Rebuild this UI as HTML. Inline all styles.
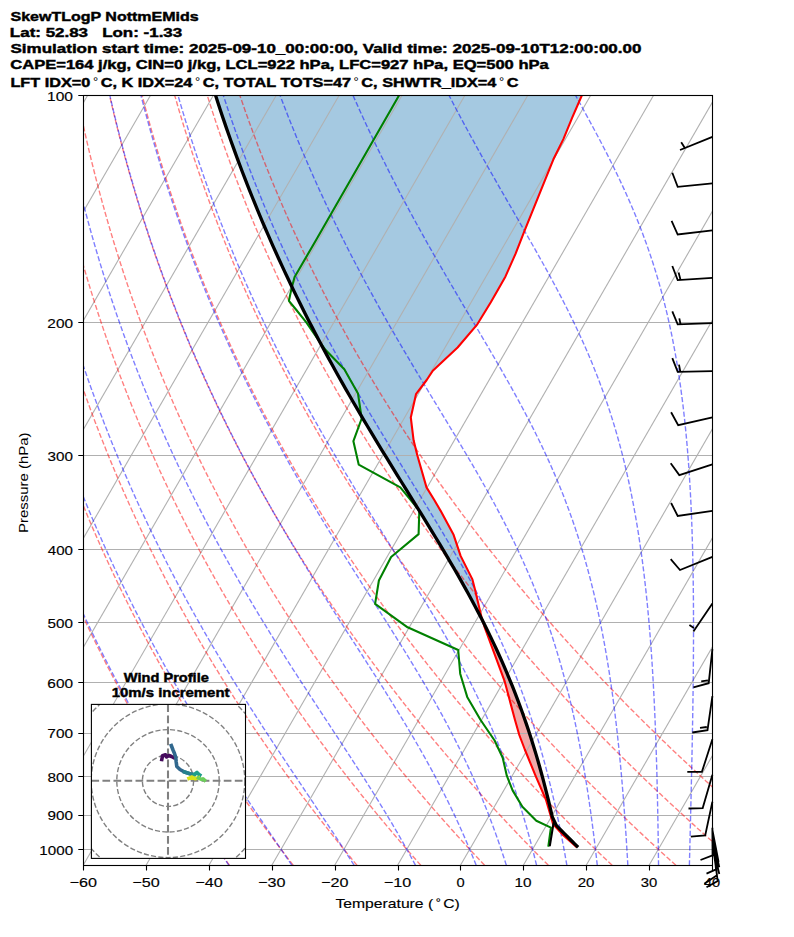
<!DOCTYPE html>
<html><head><meta charset="utf-8">
<style>
html,body{margin:0;padding:0;background:#fff;}
body{width:794px;height:937px;overflow:hidden;position:relative;font-family:"Liberation Sans",sans-serif;}
svg{position:absolute;left:0;top:0;}
text{font-family:"Liberation Sans",sans-serif;fill:#000;}
.g{stroke:#b0b0b0;stroke-width:1.1;fill:none;}
.da{stroke:rgba(255,0,0,0.5);stroke-width:1.39;fill:none;stroke-dasharray:5.14 2.22;}
.ma{stroke:rgba(0,0,255,0.5);stroke-width:1.39;fill:none;stroke-dasharray:5.14 2.22;}
.tl{stroke:#ff0000;stroke-width:2.08;fill:none;stroke-linejoin:round;stroke-linecap:square;}
.dl{stroke:#008000;stroke-width:2.08;fill:none;stroke-linejoin:round;stroke-linecap:round;}
.pl{stroke:#000;stroke-width:3.3;fill:none;stroke-linejoin:round;stroke-linecap:square;}
.ml{stroke:#000;stroke-width:2.08;fill:none;stroke-linecap:round;}
</style></head><body>
<svg width="794" height="937" viewBox="0 0 794 937">
<defs><clipPath id="ax"><rect x="83.5" y="95.5" width="629" height="770"/></clipPath></defs>
<g clip-path="url(#ax)">
<path d="M583.33,92.00 L582.75,93.33 L582.17,94.65 L581.59,95.98 L581.02,97.30 L580.45,98.63 L579.87,99.95 L579.30,101.28 L578.73,102.61 L578.15,103.93 L577.58,105.26 L577.01,106.58 L576.43,107.91 L575.86,109.23 L575.29,110.56 L574.71,111.88 L574.14,113.21 L573.57,114.54 L572.99,115.86 L572.42,117.19 L571.87,118.51 L571.32,119.84 L570.78,121.16 L570.23,122.49 L569.69,123.82 L569.14,125.14 L568.59,126.47 L568.05,127.79 L567.50,129.12 L566.96,130.44 L566.41,131.77 L565.87,133.10 L565.32,134.42 L564.78,135.75 L564.23,137.07 L563.69,138.40 L563.09,139.72 L562.43,141.05 L561.78,142.38 L561.12,143.70 L560.47,145.03 L559.81,146.35 L559.15,147.68 L558.50,149.00 L557.84,150.33 L557.18,151.65 L556.53,152.98 L555.87,154.31 L555.22,155.63 L554.56,156.96 L553.90,158.28 L553.28,159.61 L552.74,160.93 L552.20,162.26 L551.67,163.59 L551.13,164.91 L550.60,166.24 L550.06,167.56 L549.53,168.89 L548.99,170.21 L548.46,171.54 L547.92,172.87 L547.39,174.19 L546.85,175.52 L546.31,176.84 L545.78,178.17 L545.24,179.49 L544.71,180.82 L544.17,182.15 L543.64,183.47 L543.10,184.80 L542.57,186.12 L542.03,187.45 L541.50,188.77 L540.96,190.10 L540.42,191.42 L539.89,192.75 L539.35,194.08 L538.82,195.40 L538.28,196.73 L537.75,198.05 L537.21,199.38 L536.68,200.70 L536.14,202.03 L535.61,203.36 L535.07,204.68 L534.54,206.01 L534.00,207.33 L533.46,208.66 L532.93,209.98 L532.39,211.31 L531.86,212.64 L531.32,213.96 L530.79,215.29 L530.25,216.61 L529.72,217.94 L529.18,219.26 L528.65,220.59 L528.11,221.92 L527.57,223.24 L527.04,224.57 L526.50,225.89 L525.97,227.22 L525.43,228.54 L524.90,229.87 L524.36,231.19 L523.85,232.52 L523.33,233.85 L522.81,235.17 L522.30,236.50 L521.78,237.82 L521.27,239.15 L520.75,240.47 L520.23,241.80 L519.72,243.13 L519.20,244.45 L518.69,245.78 L518.17,247.10 L517.65,248.43 L517.14,249.75 L516.62,251.08 L516.10,252.41 L515.59,253.73 L515.00,255.06 L514.41,256.38 L513.82,257.71 L513.23,259.03 L512.64,260.36 L512.05,261.68 L511.46,263.01 L510.87,264.34 L510.28,265.66 L509.69,266.99 L509.10,268.31 L508.51,269.64 L507.92,270.96 L507.33,272.29 L506.74,273.62 L506.15,274.94 L505.56,276.27 L504.83,277.59 L504.08,278.92 L503.33,280.24 L502.59,281.57 L501.84,282.90 L501.09,284.22 L500.35,285.55 L499.60,286.87 L498.85,288.20 L498.10,289.52 L497.34,290.85 L496.57,292.18 L495.81,293.50 L495.05,294.83 L494.28,296.15 L493.52,297.48 L492.76,298.80 L491.99,300.13 L491.23,301.45 L490.45,302.78 L489.64,304.11 L488.83,305.43 L488.02,306.76 L487.21,308.08 L486.40,309.41 L485.59,310.73 L484.78,312.06 L483.97,313.39 L483.16,314.71 L482.35,316.04 L481.54,317.36 L480.73,318.69 L479.92,320.01 L479.11,321.34 L478.30,322.67 L477.49,323.99 L476.44,325.32 L475.31,326.64 L474.19,327.97 L473.06,329.29 L471.93,330.62 L470.81,331.95 L469.68,333.27 L468.56,334.60 L467.43,335.92 L466.31,337.25 L465.18,338.57 L464.05,339.90 L462.93,341.22 L461.80,342.55 L460.68,343.88 L459.55,345.20 L458.43,346.53 L457.22,347.85 L455.81,349.18 L454.39,350.50 L452.97,351.83 L451.55,353.16 L450.14,354.48 L448.72,355.81 L447.30,357.13 L445.89,358.46 L444.47,359.78 L443.05,361.11 L441.63,362.44 L440.22,363.76 L438.80,365.09 L437.38,366.41 L435.97,367.74 L434.55,369.06 L433.13,370.39 L432.13,371.71 L431.26,373.04 L430.40,374.37 L429.53,375.69 L428.66,377.02 L427.79,378.34 L426.92,379.67 L425.95,380.99 L424.95,382.32 L423.95,383.65 L422.95,384.97 L421.95,386.30 L420.96,387.62 L419.96,388.95 L418.96,390.27 L417.96,391.60 L416.96,392.93 L415.99,394.25 L415.69,395.58 L415.40,396.90 L415.10,398.23 L414.81,399.55 L414.51,400.88 L414.21,402.21 L413.92,403.53 L413.62,404.86 L413.33,406.18 L413.03,407.51 L412.73,408.83 L412.44,410.16 L412.14,411.48 L411.85,412.81 L411.55,414.14 L411.25,415.46 L410.96,416.79 L410.88,418.11 L411.04,419.44 L411.20,420.76 L411.36,422.09 L411.53,423.42 L411.69,424.74 L411.85,426.07 L412.01,427.39 L412.18,428.72 L412.34,430.04 L412.50,431.37 L412.67,432.70 L412.83,434.02 L412.99,435.35 L413.15,436.67 L413.32,438.00 L413.48,439.32 L413.69,440.65 L414.02,441.98 L414.35,443.30 L414.67,444.63 L415.00,445.95 L415.33,447.28 L415.66,448.60 L415.99,449.93 L416.32,451.25 L416.65,452.58 L416.98,453.91 L417.31,455.23 L417.69,456.56 L418.07,457.88 L418.45,459.21 L418.82,460.53 L419.20,461.86 L419.58,463.19 L419.96,464.51 L420.34,465.84 L420.72,467.16 L421.10,468.49 L421.48,469.81 L421.85,471.14 L422.23,472.47 L422.61,473.79 L422.99,475.12 L423.37,476.44 L423.75,477.77 L424.13,479.09 L424.51,480.42 L424.88,481.75 L425.26,483.07 L425.64,484.40 L426.02,485.72 L426.40,487.05 L427.10,488.37 L427.92,489.70 L428.74,491.02 L429.56,492.35 L430.39,493.68 L431.21,495.00 L432.03,496.33 L432.85,497.65 L433.67,498.98 L434.48,500.30 L435.25,501.63 L436.03,502.96 L436.80,504.28 L437.58,505.61 L438.35,506.93 L439.13,508.26 L439.91,509.58 L440.67,510.91 L441.39,512.24 L442.10,513.56 L442.82,514.89 L443.54,516.21 L444.26,517.54 L444.97,518.86 L445.69,520.19 L446.41,521.51 L447.13,522.84 L447.84,524.17 L448.56,525.49 L449.28,526.82 L450.00,528.14 L450.71,529.47 L451.43,530.79 L452.15,532.12 L452.87,533.45 L453.58,534.77 L454.03,536.10 L454.47,537.42 L454.91,538.75 L455.35,540.07 L455.79,541.40 L456.23,542.73 L456.67,544.05 L457.11,545.38 L457.55,546.70 L457.99,548.03 L458.43,549.35 L458.87,550.68 L459.31,552.01 L459.75,553.33 L460.19,554.66 L460.64,555.98 L461.31,557.31 L461.98,558.63 L462.65,559.96 L463.32,561.28 L463.98,562.61 L464.65,563.94 L465.32,565.26 L465.99,566.59 L466.66,567.91 L467.33,569.24 L468.00,570.56 L468.66,571.89 L469.33,573.22 L470.00,574.54 L470.67,575.87 L471.34,577.19 L472.01,578.52 L472.49,579.84 L472.83,581.17 L473.17,582.50 L473.51,583.82 L473.85,585.15 L474.19,586.47 L474.53,587.80 L474.87,589.12 L475.21,590.45 L475.52,591.78 L475.83,593.10 L476.14,594.43 L476.46,595.75 L476.77,597.08 L477.08,598.40 L477.39,599.73 L477.71,601.05 L478.02,602.38 L478.33,603.71 L478.64,605.03 L478.96,606.36 L479.27,607.68 L479.58,609.01 L479.89,610.33 L480.21,611.66 L480.52,612.99 L480.83,614.31 L481.14,615.64 L481.50,616.96 L481.90,618.29 L482.29,619.61 L482.69,620.94 L482.69,620.94 L482.02,619.61 L481.34,618.29 L480.66,616.96 L479.97,615.64 L479.29,614.31 L478.60,612.99 L477.91,611.66 L477.21,610.33 L476.51,609.01 L475.82,607.68 L475.12,606.36 L474.41,605.03 L473.70,603.71 L472.99,602.38 L472.28,601.05 L471.57,599.73 L470.85,598.40 L470.13,597.08 L469.40,595.75 L468.68,594.43 L467.96,593.10 L467.22,591.78 L466.49,590.45 L465.76,589.12 L465.03,587.80 L464.29,586.47 L463.54,585.15 L462.80,583.82 L462.05,582.50 L461.31,581.17 L460.56,579.84 L459.80,578.52 L459.05,577.19 L458.30,575.87 L457.54,574.54 L456.78,573.22 L456.01,571.89 L455.25,570.56 L454.49,569.24 L453.72,567.91 L452.95,566.59 L452.18,565.26 L451.40,563.94 L450.63,562.61 L449.85,561.28 L449.07,559.96 L448.29,558.63 L447.51,557.31 L446.73,555.98 L445.94,554.66 L445.16,553.33 L444.37,552.01 L443.58,550.68 L442.79,549.35 L442.00,548.03 L441.20,546.70 L440.41,545.38 L439.61,544.05 L438.82,542.73 L438.02,541.40 L437.22,540.07 L436.42,538.75 L435.61,537.42 L434.81,536.10 L434.00,534.77 L433.20,533.45 L432.39,532.12 L431.59,530.79 L430.78,529.47 L429.97,528.14 L429.16,526.82 L428.35,525.49 L427.54,524.17 L426.72,522.84 L425.91,521.51 L425.10,520.19 L424.28,518.86 L423.47,517.54 L422.65,516.21 L421.83,514.89 L421.02,513.56 L420.20,512.24 L419.38,510.91 L418.56,509.58 L417.74,508.26 L416.93,506.93 L416.11,505.61 L415.29,504.28 L414.47,502.96 L413.65,501.63 L412.83,500.30 L412.00,498.98 L411.18,497.65 L410.36,496.33 L409.54,495.00 L408.72,493.68 L407.90,492.35 L407.08,491.02 L406.26,489.70 L405.44,488.37 L404.62,487.05 L403.80,485.72 L402.98,484.40 L402.15,483.07 L401.33,481.75 L400.51,480.42 L399.69,479.09 L398.88,477.77 L398.06,476.44 L397.24,475.12 L396.42,473.79 L395.60,472.47 L394.78,471.14 L393.96,469.81 L393.15,468.49 L392.33,467.16 L391.52,465.84 L390.70,464.51 L389.89,463.19 L389.07,461.86 L388.26,460.53 L387.45,459.21 L386.63,457.88 L385.82,456.56 L385.01,455.23 L384.20,453.91 L383.39,452.58 L382.58,451.25 L381.77,449.93 L380.97,448.60 L380.16,447.28 L379.35,445.95 L378.55,444.63 L377.75,443.30 L376.94,441.98 L376.14,440.65 L375.34,439.32 L374.54,438.00 L373.74,436.67 L372.94,435.35 L372.14,434.02 L371.35,432.70 L370.55,431.37 L369.76,430.04 L368.96,428.72 L368.17,427.39 L367.38,426.07 L366.59,424.74 L365.80,423.42 L365.01,422.09 L364.23,420.76 L363.44,419.44 L362.66,418.11 L361.87,416.79 L361.09,415.46 L360.31,414.14 L359.53,412.81 L358.75,411.48 L357.97,410.16 L357.20,408.83 L356.42,407.51 L355.65,406.18 L354.88,404.86 L354.11,403.53 L353.33,402.21 L352.57,400.88 L351.80,399.55 L351.03,398.23 L350.27,396.90 L349.50,395.58 L348.74,394.25 L347.98,392.93 L347.22,391.60 L346.47,390.27 L345.71,388.95 L344.95,387.62 L344.20,386.30 L343.45,384.97 L342.70,383.65 L341.95,382.32 L341.20,380.99 L340.45,379.67 L339.71,378.34 L338.96,377.02 L338.22,375.69 L337.48,374.37 L336.74,373.04 L336.00,371.71 L335.26,370.39 L334.53,369.06 L333.80,367.74 L333.06,366.41 L332.33,365.09 L331.60,363.76 L330.88,362.44 L330.15,361.11 L329.43,359.78 L328.70,358.46 L327.98,357.13 L327.26,355.81 L326.54,354.48 L325.82,353.16 L325.11,351.83 L324.39,350.50 L323.68,349.18 L322.97,347.85 L322.26,346.53 L321.55,345.20 L320.85,343.88 L320.14,342.55 L319.44,341.22 L318.73,339.90 L318.03,338.57 L317.34,337.25 L316.64,335.92 L315.94,334.60 L315.25,333.27 L314.56,331.95 L313.87,330.62 L313.18,329.29 L312.49,327.97 L311.80,326.64 L311.12,325.32 L310.43,323.99 L309.75,322.67 L309.07,321.34 L308.39,320.01 L307.72,318.69 L307.04,317.36 L306.36,316.04 L305.69,314.71 L305.02,313.39 L304.35,312.06 L303.69,310.73 L303.02,309.41 L302.35,308.08 L301.69,306.76 L301.03,305.43 L300.37,304.11 L299.71,302.78 L299.05,301.45 L298.40,300.13 L297.75,298.80 L297.09,297.48 L296.44,296.15 L295.80,294.83 L295.15,293.50 L294.50,292.18 L293.86,290.85 L293.21,289.52 L292.58,288.20 L291.94,286.87 L291.30,285.55 L290.66,284.22 L290.03,282.90 L289.40,281.57 L288.76,280.24 L288.13,278.92 L287.50,277.59 L286.88,276.27 L286.25,274.94 L285.63,273.62 L285.01,272.29 L284.38,270.96 L283.77,269.64 L283.15,268.31 L282.54,266.99 L281.92,265.66 L281.31,264.34 L280.70,263.01 L280.09,261.68 L279.48,260.36 L278.87,259.03 L278.27,257.71 L277.67,256.38 L277.06,255.06 L276.46,253.73 L275.86,252.41 L275.27,251.08 L274.67,249.75 L274.08,248.43 L273.48,247.10 L272.89,245.78 L272.31,244.45 L271.72,243.13 L271.13,241.80 L270.54,240.47 L269.96,239.15 L269.38,237.82 L268.80,236.50 L268.22,235.17 L267.64,233.85 L267.07,232.52 L266.50,231.19 L265.92,229.87 L265.35,228.54 L264.78,227.22 L264.22,225.89 L263.65,224.57 L263.08,223.24 L262.52,221.92 L261.96,220.59 L261.40,219.26 L260.84,217.94 L260.28,216.61 L259.73,215.29 L259.17,213.96 L258.62,212.64 L258.07,211.31 L257.52,209.98 L256.97,208.66 L256.43,207.33 L255.88,206.01 L255.34,204.68 L254.79,203.36 L254.26,202.03 L253.72,200.70 L253.18,199.38 L252.64,198.05 L252.11,196.73 L251.58,195.40 L251.05,194.08 L250.51,192.75 L249.98,191.42 L249.46,190.10 L248.93,188.77 L248.41,187.45 L247.89,186.12 L247.36,184.80 L246.85,183.47 L246.33,182.15 L245.81,180.82 L245.30,179.49 L244.78,178.17 L244.27,176.84 L243.76,175.52 L243.25,174.19 L242.74,172.87 L242.23,171.54 L241.73,170.21 L241.23,168.89 L240.73,167.56 L240.22,166.24 L239.73,164.91 L239.23,163.59 L238.73,162.26 L238.24,160.93 L237.74,159.61 L237.25,158.28 L236.76,156.96 L236.27,155.63 L235.78,154.31 L235.30,152.98 L234.82,151.65 L234.33,150.33 L233.85,149.00 L233.37,147.68 L232.89,146.35 L232.42,145.03 L231.94,143.70 L231.46,142.38 L230.99,141.05 L230.52,139.72 L230.05,138.40 L229.58,137.07 L229.11,135.75 L228.65,134.42 L228.18,133.10 L227.72,131.77 L227.26,130.44 L226.80,129.12 L226.34,127.79 L225.88,126.47 L225.43,125.14 L224.97,123.82 L224.52,122.49 L224.07,121.16 L223.62,119.84 L223.17,118.51 L222.72,117.19 L222.27,115.86 L221.83,114.54 L221.39,113.21 L220.94,111.88 L220.50,110.56 L220.06,109.23 L219.63,107.91 L219.19,106.58 L218.76,105.26 L218.32,103.93 L217.89,102.61 L217.46,101.28 L217.03,99.95 L216.60,98.63 L216.17,97.30 L215.75,95.98 L215.33,94.65 L214.90,93.33 L214.48,92.00 Z" fill="#1f77b4" fill-opacity="0.4" stroke="none"/>
<path d="M482.69,620.94 L482.89,621.61 L483.10,622.29 L483.30,622.96 L483.50,623.64 L483.70,624.31 L483.91,624.99 L484.11,625.66 L484.31,626.34 L484.56,627.01 L484.82,627.69 L485.07,628.36 L485.32,629.04 L485.57,629.71 L485.82,630.39 L486.07,631.06 L486.32,631.74 L486.57,632.41 L486.82,633.09 L487.07,633.76 L487.32,634.44 L487.57,635.11 L487.82,635.79 L488.07,636.46 L488.32,637.14 L488.57,637.81 L488.82,638.49 L489.07,639.16 L489.32,639.84 L489.57,640.51 L489.82,641.19 L490.07,641.86 L490.32,642.54 L490.57,643.21 L490.82,643.89 L491.07,644.56 L491.32,645.24 L491.57,645.91 L491.82,646.59 L492.07,647.26 L492.32,647.94 L492.57,648.61 L492.82,649.29 L493.07,649.96 L493.32,650.64 L493.57,651.31 L493.82,651.99 L494.07,652.66 L494.32,653.34 L494.57,654.01 L494.82,654.69 L495.07,655.36 L495.32,656.04 L495.57,656.71 L495.82,657.39 L496.07,658.06 L496.32,658.74 L496.57,659.41 L496.82,660.09 L497.07,660.76 L497.32,661.44 L497.57,662.11 L497.82,662.79 L498.07,663.46 L498.33,664.14 L498.58,664.81 L498.83,665.49 L499.08,666.16 L499.33,666.84 L499.58,667.51 L499.83,668.19 L500.08,668.86 L500.33,669.54 L500.58,670.21 L500.83,670.89 L501.08,671.56 L501.33,672.24 L501.58,672.91 L501.83,673.59 L502.08,674.26 L502.33,674.94 L502.58,675.61 L502.83,676.29 L503.08,676.96 L503.33,677.64 L503.58,678.31 L503.83,678.99 L504.08,679.66 L504.33,680.34 L504.56,681.01 L504.74,681.69 L504.92,682.36 L505.10,683.04 L505.28,683.71 L505.46,684.39 L505.64,685.06 L505.82,685.74 L506.00,686.41 L506.18,687.09 L506.37,687.77 L506.55,688.44 L506.73,689.12 L506.91,689.79 L507.09,690.47 L507.27,691.14 L507.45,691.82 L507.63,692.49 L507.81,693.17 L507.99,693.84 L508.17,694.52 L508.35,695.19 L508.54,695.87 L508.72,696.54 L508.90,697.22 L509.08,697.89 L509.26,698.57 L509.44,699.24 L509.62,699.92 L509.80,700.59 L509.98,701.27 L510.16,701.94 L510.34,702.62 L510.52,703.29 L510.70,703.97 L510.89,704.64 L511.07,705.32 L511.25,705.99 L511.43,706.67 L511.61,707.34 L511.79,708.02 L511.97,708.69 L512.15,709.37 L512.33,710.04 L512.51,710.72 L512.69,711.39 L512.87,712.07 L513.06,712.74 L513.24,713.42 L513.42,714.09 L513.60,714.77 L513.78,715.44 L513.96,716.12 L514.14,716.79 L514.32,717.47 L514.50,718.14 L514.68,718.82 L514.86,719.49 L515.05,720.17 L515.24,720.84 L515.43,721.52 L515.63,722.19 L515.82,722.87 L516.01,723.54 L516.21,724.22 L516.40,724.89 L516.60,725.57 L516.79,726.24 L516.98,726.92 L517.18,727.59 L517.37,728.27 L517.56,728.94 L517.76,729.62 L517.95,730.29 L518.14,730.97 L518.34,731.64 L518.53,732.32 L518.72,732.99 L518.92,733.67 L519.11,734.34 L519.31,735.02 L519.56,735.69 L519.82,736.37 L520.07,737.04 L520.33,737.72 L520.59,738.39 L520.84,739.07 L521.10,739.74 L521.35,740.42 L521.61,741.09 L521.87,741.77 L522.12,742.44 L522.38,743.12 L522.63,743.79 L522.89,744.47 L523.15,745.14 L523.40,745.82 L523.66,746.49 L523.91,747.17 L524.17,747.84 L524.43,748.52 L524.68,749.19 L524.95,749.87 L525.22,750.54 L525.50,751.22 L525.78,751.89 L526.05,752.57 L526.33,753.24 L526.60,753.92 L526.88,754.59 L527.15,755.27 L527.43,755.94 L527.71,756.62 L527.98,757.29 L528.26,757.97 L528.53,758.64 L528.81,759.32 L529.08,759.99 L529.36,760.67 L529.64,761.34 L529.91,762.02 L530.19,762.69 L530.46,763.37 L530.74,764.04 L531.01,764.72 L531.29,765.39 L531.57,766.07 L531.84,766.74 L532.12,767.42 L532.39,768.09 L532.67,768.77 L532.94,769.44 L533.22,770.12 L533.49,770.79 L533.77,771.47 L534.05,772.14 L534.32,772.82 L534.60,773.49 L534.87,774.17 L535.15,774.84 L535.42,775.52 L535.71,776.19 L536.00,776.87 L536.30,777.54 L536.59,778.22 L536.88,778.89 L537.17,779.57 L537.46,780.24 L537.76,780.92 L538.05,781.59 L538.34,782.27 L538.63,782.94 L538.92,783.62 L539.22,784.29 L539.51,784.97 L539.80,785.64 L540.09,786.32 L540.38,786.99 L540.68,787.67 L540.97,788.34 L541.26,789.02 L541.55,789.69 L541.85,790.37 L542.14,791.04 L542.43,791.72 L542.72,792.39 L543.01,793.07 L543.31,793.74 L543.60,794.42 L543.89,795.09 L544.18,795.77 L544.47,796.44 L544.77,797.12 L545.06,797.79 L545.35,798.47 L545.64,799.14 L545.93,799.82 L546.19,800.49 L546.38,801.17 L546.58,801.84 L546.78,802.52 L546.98,803.19 L547.18,803.87 L547.38,804.54 L547.58,805.22 L547.78,805.89 L547.97,806.57 L548.17,807.24 L548.37,807.92 L548.57,808.59 L548.77,809.27 L548.97,809.94 L549.17,810.62 L549.37,811.29 L549.56,811.97 L549.76,812.64 L549.96,813.32 L550.16,813.99 L550.36,814.67 L550.56,815.34 L550.76,816.02 L550.96,816.69 L551.15,817.37 L551.35,818.04 L551.55,818.72 L551.75,819.39 L551.94,820.07 L552.13,820.74 L552.31,821.42 L552.49,822.09 L552.67,822.77 L555.08,822.77 L554.77,822.09 L554.46,821.42 L554.14,820.74 L553.83,820.07 L553.52,819.39 L553.21,818.72 L552.90,818.04 L552.58,817.37 L552.27,816.69 L552.09,816.02 L551.93,815.34 L551.78,814.67 L551.62,813.99 L551.47,813.32 L551.32,812.64 L551.16,811.97 L551.01,811.29 L550.85,810.62 L550.70,809.94 L550.54,809.27 L550.38,808.59 L550.22,807.92 L550.06,807.24 L549.90,806.57 L549.74,805.89 L549.58,805.22 L549.43,804.54 L549.26,803.87 L549.10,803.19 L548.94,802.52 L548.78,801.84 L548.61,801.17 L548.45,800.49 L548.29,799.82 L548.12,799.14 L547.96,798.47 L547.80,797.79 L547.63,797.12 L547.46,796.44 L547.29,795.77 L547.12,795.09 L546.96,794.42 L546.79,793.74 L546.62,793.07 L546.45,792.39 L546.29,791.72 L546.11,791.04 L545.94,790.37 L545.77,789.69 L545.60,789.02 L545.42,788.34 L545.25,787.67 L545.08,786.99 L544.91,786.32 L544.73,785.64 L544.56,784.97 L544.38,784.29 L544.20,783.62 L544.03,782.94 L543.85,782.27 L543.67,781.59 L543.49,780.92 L543.32,780.24 L543.14,779.57 L542.96,778.89 L542.78,778.22 L542.59,777.54 L542.41,776.87 L542.23,776.19 L542.05,775.52 L541.87,774.84 L541.68,774.17 L541.50,773.49 L541.32,772.82 L541.13,772.14 L540.94,771.47 L540.75,770.79 L540.57,770.12 L540.38,769.44 L540.19,768.77 L540.00,768.09 L539.82,767.42 L539.63,766.74 L539.44,766.07 L539.24,765.39 L539.05,764.72 L538.86,764.04 L538.66,763.37 L538.47,762.69 L538.28,762.02 L538.09,761.34 L537.89,760.67 L537.70,759.99 L537.50,759.32 L537.30,758.64 L537.10,757.97 L536.90,757.29 L536.71,756.62 L536.51,755.94 L536.31,755.27 L536.11,754.59 L535.91,753.92 L535.70,753.24 L535.50,752.57 L535.30,751.89 L535.09,751.22 L534.89,750.54 L534.69,749.87 L534.48,749.19 L534.28,748.52 L534.07,747.84 L533.86,747.17 L533.65,746.49 L533.44,745.82 L533.23,745.14 L533.02,744.47 L532.81,743.79 L532.60,743.12 L532.40,742.44 L532.18,741.77 L531.97,741.09 L531.75,740.42 L531.54,739.74 L531.32,739.07 L531.11,738.39 L530.89,737.72 L530.68,737.04 L530.46,736.37 L530.24,735.69 L530.02,735.02 L529.80,734.34 L529.58,733.67 L529.36,732.99 L529.14,732.32 L528.92,731.64 L528.69,730.97 L528.47,730.29 L528.25,729.62 L528.02,728.94 L527.80,728.27 L527.57,727.59 L527.34,726.92 L527.11,726.24 L526.89,725.57 L526.66,724.89 L526.43,724.22 L526.20,723.54 L525.97,722.87 L525.74,722.19 L525.50,721.52 L525.27,720.84 L525.04,720.17 L524.80,719.49 L524.57,718.82 L524.34,718.14 L524.10,717.47 L523.86,716.79 L523.62,716.12 L523.38,715.44 L523.14,714.77 L522.90,714.09 L522.66,713.42 L522.42,712.74 L522.18,712.07 L521.94,711.39 L521.70,710.72 L521.45,710.04 L521.21,709.37 L520.96,708.69 L520.71,708.02 L520.47,707.34 L520.22,706.67 L519.97,705.99 L519.73,705.32 L519.48,704.64 L519.22,703.97 L518.97,703.29 L518.72,702.62 L518.46,701.94 L518.21,701.27 L517.96,700.59 L517.71,699.92 L517.45,699.24 L517.20,698.57 L516.94,697.89 L516.68,697.22 L516.42,696.54 L516.16,695.87 L515.90,695.19 L515.64,694.52 L515.38,693.84 L515.12,693.17 L514.86,692.49 L514.59,691.82 L514.32,691.14 L514.06,690.47 L513.79,689.79 L513.53,689.12 L513.26,688.44 L512.99,687.77 L512.73,687.09 L512.46,686.41 L512.19,685.74 L511.91,685.06 L511.64,684.39 L511.37,683.71 L511.09,683.04 L510.82,682.36 L510.54,681.69 L510.27,681.01 L510.00,680.34 L509.72,679.66 L509.44,678.99 L509.16,678.31 L508.88,677.64 L508.60,676.96 L508.32,676.29 L508.04,675.61 L507.76,674.94 L507.48,674.26 L507.19,673.59 L506.90,672.91 L506.62,672.24 L506.33,671.56 L506.04,670.89 L505.75,670.21 L505.47,669.54 L505.18,668.86 L504.89,668.19 L504.60,667.51 L504.31,666.84 L504.01,666.16 L503.72,665.49 L503.42,664.81 L503.13,664.14 L502.83,663.46 L502.54,662.79 L502.25,662.11 L501.95,661.44 L501.65,660.76 L501.35,660.09 L501.05,659.41 L500.74,658.74 L500.44,658.06 L500.14,657.39 L499.84,656.71 L499.54,656.04 L499.24,655.36 L498.93,654.69 L498.62,654.01 L498.31,653.34 L498.00,652.66 L497.69,651.99 L497.39,651.31 L497.08,650.64 L496.77,649.96 L496.46,649.29 L496.14,648.61 L495.83,647.94 L495.51,647.26 L495.20,646.59 L494.88,645.91 L494.57,645.24 L494.25,644.56 L493.94,643.89 L493.62,643.21 L493.30,642.54 L492.98,641.86 L492.66,641.19 L492.33,640.51 L492.01,639.84 L491.69,639.16 L491.37,638.49 L491.04,637.81 L490.72,637.14 L490.40,636.46 L490.07,635.79 L489.74,635.11 L489.41,634.44 L489.08,633.76 L488.75,633.09 L488.42,632.41 L488.09,631.74 L487.76,631.06 L487.43,630.39 L487.09,629.71 L486.76,629.04 L486.42,628.36 L486.08,627.69 L485.75,627.01 L485.41,626.34 L485.08,625.66 L484.74,624.99 L484.40,624.31 L484.06,623.64 L483.72,622.96 L483.37,622.29 L483.03,621.61 L482.69,620.94 Z" fill="#d62728" fill-opacity="0.4" stroke="none"/>
<line x1="83.20" y1="95.50" x2="712.00" y2="95.50" class="g"/>
<line x1="83.20" y1="322.50" x2="712.00" y2="322.50" class="g"/>
<line x1="83.20" y1="455.50" x2="712.00" y2="455.50" class="g"/>
<line x1="83.20" y1="549.50" x2="712.00" y2="549.50" class="g"/>
<line x1="83.20" y1="622.50" x2="712.00" y2="622.50" class="g"/>
<line x1="83.20" y1="682.50" x2="712.00" y2="682.50" class="g"/>
<line x1="83.20" y1="733.50" x2="712.00" y2="733.50" class="g"/>
<line x1="83.20" y1="776.50" x2="712.00" y2="776.50" class="g"/>
<line x1="83.20" y1="815.50" x2="712.00" y2="815.50" class="g"/>
<line x1="83.20" y1="849.50" x2="712.00" y2="849.50" class="g"/>
<line x1="-356.96" y1="865.33" x2="87.53" y2="95.45" class="g"/>
<line x1="-294.08" y1="865.33" x2="150.41" y2="95.45" class="g"/>
<line x1="-231.20" y1="865.33" x2="213.29" y2="95.45" class="g"/>
<line x1="-168.32" y1="865.33" x2="276.17" y2="95.45" class="g"/>
<line x1="-105.44" y1="865.33" x2="339.05" y2="95.45" class="g"/>
<line x1="-42.56" y1="865.33" x2="401.93" y2="95.45" class="g"/>
<line x1="20.32" y1="865.33" x2="464.81" y2="95.45" class="g"/>
<line x1="83.20" y1="865.33" x2="527.69" y2="95.45" class="g"/>
<line x1="146.08" y1="865.33" x2="590.57" y2="95.45" class="g"/>
<line x1="208.96" y1="865.33" x2="653.45" y2="95.45" class="g"/>
<line x1="271.84" y1="865.33" x2="716.33" y2="95.45" class="g"/>
<line x1="334.72" y1="865.33" x2="779.21" y2="95.45" class="g"/>
<line x1="397.60" y1="865.33" x2="842.09" y2="95.45" class="g"/>
<line x1="460.48" y1="865.33" x2="904.97" y2="95.45" class="g"/>
<line x1="523.36" y1="865.33" x2="967.85" y2="95.45" class="g"/>
<line x1="586.24" y1="865.33" x2="1030.73" y2="95.45" class="g"/>
<line x1="649.12" y1="865.33" x2="1093.61" y2="95.45" class="g"/>
<line x1="712.00" y1="865.33" x2="1156.49" y2="95.45" class="g"/>
<path d="M229.54,865.33 L228.47,863.84 L227.39,862.34 L226.31,860.83 L225.23,859.32 L224.15,857.80 L223.07,856.27 L221.98,854.74 L220.89,853.20 L219.80,851.65 L218.70,850.09 L217.61,848.53 L216.51,846.96 L215.40,845.38 L214.30,843.80 L213.19,842.20 L212.08,840.60 L210.97,838.99 L209.85,837.37 L208.74,835.75 L207.61,834.12 L206.49,832.47 L205.37,830.82 L204.24,829.17 L203.11,827.50 L201.97,825.82 L200.84,824.14 L199.70,822.45 L198.55,820.75 L197.41,819.04 L196.26,817.32 L195.11,815.59 L193.96,813.85 L192.80,812.10 L191.64,810.35 L190.48,808.58 L189.31,806.81 L188.15,805.02 L186.98,803.23 L185.80,801.42 L184.62,799.61 L183.44,797.79 L182.26,795.95 L181.08,794.11 L179.89,792.25 L178.69,790.38 L177.50,788.51 L176.30,786.62 L175.10,784.72 L173.90,782.81 L172.69,780.89 L171.48,778.96 L170.26,777.01 L169.04,775.06 L167.82,773.09 L166.60,771.11 L165.37,769.12 L164.14,767.12 L162.91,765.10 L161.67,763.07 L160.43,761.03 L159.18,758.98 L157.94,756.91 L156.68,754.83 L155.43,752.74 L154.17,750.63 L152.91,748.52 L151.64,746.38 L150.37,744.23 L149.10,742.07 L147.83,739.90 L146.55,737.70 L145.26,735.50 L143.97,733.28 L142.68,731.04 L141.39,728.79 L140.09,726.52 L138.79,724.24 L137.48,721.94 L136.17,719.63 L134.85,717.30 L133.54,714.95 L132.21,712.58 L130.89,710.20 L129.56,707.80 L128.22,705.39 L126.88,702.95 L125.54,700.50 L124.19,698.02 L122.84,695.53 L121.49,693.02 L120.13,690.49 L118.76,687.95 L117.39,685.38 L116.02,682.79 L114.64,680.18 L113.26,677.55 L111.88,674.89 L110.49,672.22 L109.09,669.52 L107.69,666.81 L106.29,664.06 L104.88,661.30 L103.46,658.51 L102.05,655.70 L100.62,652.86 L99.20,650.00 L97.76,647.12 L96.33,644.21 L94.88,641.27 L93.44,638.30 L91.98,635.31 L90.53,632.29 L89.06,629.25 L87.60,626.17 L86.13,623.06 L84.65,619.93 L83.17,616.76 L81.68,613.57 L80.18,610.34 L78.69,607.08 L77.18,603.79 L75.67,600.46 L74.16,597.10 L72.64,593.71 L71.11,590.28 L69.58,586.81 L68.05,583.31 L66.51,579.77 L64.96,576.19 L63.40,572.57 L61.85,568.91 L60.28,565.20 L58.71,561.46 L57.14,557.67 L55.55,553.84 L53.97,549.96 L52.37,546.04 L50.77,542.07 L49.17,538.05 L47.56,533.98 L45.94,529.86 L44.32,525.68 L42.69,521.45 L41.05,517.17 L39.41,512.83 L37.76,508.43 L36.11,503.98 L34.45,499.46 L32.78,494.87 L31.11,490.23 L29.43,485.51 L27.75,480.73 L26.06,475.87 L24.36,470.95 L22.66,465.94 L20.95,460.86 L19.24,455.70 L17.52,450.46 L15.80,445.13 L14.06,439.71 L12.33,434.21 L10.58,428.60 L8.84,422.90 L7.08,417.10 L5.33,411.20 L3.56,405.19 L1.80,399.06 L0.02,392.82 L-1.75,386.45 L-3.54,379.96 L-5.32,373.34 L-7.11,366.58 L-8.90,359.68 L-10.69,352.63 L-12.49,345.43 L-14.29,338.06 L-16.09,330.52 L-17.89,322.81 L-19.69,314.91 L-21.49,306.81 L-23.29,298.51 L-25.08,290.00 L-26.88,281.25 L-28.66,272.27 L-30.44,263.03 L-32.21,253.53 L-33.98,243.74 L-35.73,233.65 L-37.46,223.23 L-39.18,212.48 L-40.89,201.36 L-42.56,189.85 L-44.22,177.92 L-45.84,165.54 L-47.42,152.67 L-48.96,139.27 L-50.46,125.31 L-51.89,110.72 L-53.26,95.45" class="da"/>
<path d="M293.30,865.33 L292.15,863.84 L290.99,862.34 L289.83,860.83 L288.66,859.32 L287.50,857.80 L286.33,856.27 L285.16,854.74 L283.98,853.20 L282.80,851.65 L281.62,850.09 L280.44,848.53 L279.25,846.96 L278.07,845.38 L276.87,843.80 L275.68,842.20 L274.48,840.60 L273.28,838.99 L272.08,837.37 L270.87,835.75 L269.66,834.12 L268.45,832.47 L267.24,830.82 L266.02,829.17 L264.80,827.50 L263.57,825.82 L262.35,824.14 L261.12,822.45 L259.88,820.75 L258.65,819.04 L257.41,817.32 L256.16,815.59 L254.92,813.85 L253.67,812.10 L252.42,810.35 L251.16,808.58 L249.90,806.81 L248.64,805.02 L247.37,803.23 L246.11,801.42 L244.83,799.61 L243.56,797.79 L242.28,795.95 L241.00,794.11 L239.71,792.25 L238.42,790.38 L237.13,788.51 L235.83,786.62 L234.53,784.72 L233.23,782.81 L231.92,780.89 L230.61,778.96 L229.30,777.01 L227.98,775.06 L226.66,773.09 L225.33,771.11 L224.00,769.12 L222.67,767.12 L221.33,765.10 L219.99,763.07 L218.64,761.03 L217.30,758.98 L215.94,756.91 L214.59,754.83 L213.23,752.74 L211.86,750.63 L210.49,748.52 L209.12,746.38 L207.74,744.23 L206.36,742.07 L204.98,739.90 L203.59,737.70 L202.19,735.50 L200.80,733.28 L199.39,731.04 L197.99,728.79 L196.58,726.52 L195.16,724.24 L193.74,721.94 L192.32,719.63 L190.89,717.30 L189.46,714.95 L188.02,712.58 L186.58,710.20 L185.13,707.80 L183.68,705.39 L182.22,702.95 L180.76,700.50 L179.29,698.02 L177.82,695.53 L176.35,693.02 L174.87,690.49 L173.38,687.95 L171.89,685.38 L170.39,682.79 L168.89,680.18 L167.39,677.55 L165.88,674.89 L164.36,672.22 L162.84,669.52 L161.31,666.81 L159.78,664.06 L158.24,661.30 L156.70,658.51 L155.15,655.70 L153.59,652.86 L152.04,650.00 L150.47,647.12 L148.90,644.21 L147.32,641.27 L145.74,638.30 L144.15,635.31 L142.56,632.29 L140.96,629.25 L139.35,626.17 L137.74,623.06 L136.12,619.93 L134.49,616.76 L132.86,613.57 L131.23,610.34 L129.58,607.08 L127.93,603.79 L126.28,600.46 L124.62,597.10 L122.95,593.71 L121.27,590.28 L119.59,586.81 L117.90,583.31 L116.20,579.77 L114.50,576.19 L112.79,572.57 L111.08,568.91 L109.35,565.20 L107.62,561.46 L105.88,557.67 L104.14,553.84 L102.39,549.96 L100.63,546.04 L98.86,542.07 L97.09,538.05 L95.31,533.98 L93.52,529.86 L91.72,525.68 L89.92,521.45 L88.11,517.17 L86.29,512.83 L84.46,508.43 L82.63,503.98 L80.78,499.46 L78.93,494.87 L77.07,490.23 L75.21,485.51 L73.33,480.73 L71.45,475.87 L69.56,470.95 L67.66,465.94 L65.75,460.86 L63.84,455.70 L61.92,450.46 L59.98,445.13 L58.05,439.71 L56.10,434.21 L54.14,428.60 L52.18,422.90 L50.21,417.10 L48.23,411.20 L46.24,405.19 L44.24,399.06 L42.24,392.82 L40.23,386.45 L38.21,379.96 L36.19,373.34 L34.15,366.58 L32.11,359.68 L30.07,352.63 L28.02,345.43 L25.96,338.06 L23.89,330.52 L21.83,322.81 L19.75,314.91 L17.67,306.81 L15.59,298.51 L13.51,290.00 L11.43,281.25 L9.34,272.27 L7.26,263.03 L5.17,253.53 L3.09,243.74 L1.02,233.65 L-1.05,223.23 L-3.11,212.48 L-5.16,201.36 L-7.20,189.85 L-9.22,177.92 L-11.21,165.54 L-13.18,152.67 L-15.12,139.27 L-17.03,125.31 L-18.89,110.72 L-20.69,95.45" class="da"/>
<path d="M357.07,865.33 L355.83,863.84 L354.58,862.34 L353.34,860.83 L352.09,859.32 L350.84,857.80 L349.59,856.27 L348.33,854.74 L347.07,853.20 L345.81,851.65 L344.54,850.09 L343.27,848.53 L342.00,846.96 L340.73,845.38 L339.45,843.80 L338.17,842.20 L336.88,840.60 L335.60,838.99 L334.30,837.37 L333.01,835.75 L331.71,834.12 L330.41,832.47 L329.11,830.82 L327.80,829.17 L326.49,827.50 L325.18,825.82 L323.86,824.14 L322.54,822.45 L321.21,820.75 L319.89,819.04 L318.55,817.32 L317.22,815.59 L315.88,813.85 L314.54,812.10 L313.19,810.35 L311.84,808.58 L310.49,806.81 L309.13,805.02 L307.77,803.23 L306.41,801.42 L305.04,799.61 L303.67,797.79 L302.30,795.95 L300.92,794.11 L299.53,792.25 L298.15,790.38 L296.76,788.51 L295.36,786.62 L293.96,784.72 L292.56,782.81 L291.15,780.89 L289.74,778.96 L288.33,777.01 L286.91,775.06 L285.49,773.09 L284.06,771.11 L282.63,769.12 L281.19,767.12 L279.75,765.10 L278.31,763.07 L276.86,761.03 L275.41,758.98 L273.95,756.91 L272.49,754.83 L271.02,752.74 L269.55,750.63 L268.08,748.52 L266.60,746.38 L265.11,744.23 L263.62,742.07 L262.13,739.90 L260.63,737.70 L259.13,735.50 L257.62,733.28 L256.11,731.04 L254.59,728.79 L253.07,726.52 L251.54,724.24 L250.01,721.94 L248.47,719.63 L246.93,717.30 L245.38,714.95 L243.82,712.58 L242.27,710.20 L240.70,707.80 L239.13,705.39 L237.56,702.95 L235.98,700.50 L234.39,698.02 L232.80,695.53 L231.21,693.02 L229.61,690.49 L228.00,687.95 L226.39,685.38 L224.77,682.79 L223.14,680.18 L221.51,677.55 L219.88,674.89 L218.23,672.22 L216.59,669.52 L214.93,666.81 L213.27,664.06 L211.60,661.30 L209.93,658.51 L208.25,655.70 L206.57,652.86 L204.88,650.00 L203.18,647.12 L201.47,644.21 L199.76,641.27 L198.04,638.30 L196.32,635.31 L194.59,632.29 L192.85,629.25 L191.10,626.17 L189.35,623.06 L187.59,619.93 L185.82,616.76 L184.05,613.57 L182.27,610.34 L180.48,607.08 L178.69,603.79 L176.88,600.46 L175.07,597.10 L173.25,593.71 L171.43,590.28 L169.59,586.81 L167.75,583.31 L165.90,579.77 L164.04,576.19 L162.18,572.57 L160.31,568.91 L158.42,565.20 L156.53,561.46 L154.63,557.67 L152.73,553.84 L150.81,549.96 L148.89,546.04 L146.95,542.07 L145.01,538.05 L143.06,533.98 L141.10,529.86 L139.13,525.68 L137.15,521.45 L135.16,517.17 L133.17,512.83 L131.16,508.43 L129.14,503.98 L127.12,499.46 L125.08,494.87 L123.04,490.23 L120.98,485.51 L118.92,480.73 L116.84,475.87 L114.76,470.95 L112.66,465.94 L110.55,460.86 L108.44,455.70 L106.31,450.46 L104.17,445.13 L102.03,439.71 L99.87,434.21 L97.70,428.60 L95.52,422.90 L93.33,417.10 L91.13,411.20 L88.91,405.19 L86.69,399.06 L84.46,392.82 L82.21,386.45 L79.96,379.96 L77.69,373.34 L75.42,366.58 L73.13,359.68 L70.83,352.63 L68.52,345.43 L66.21,338.06 L63.88,330.52 L61.54,322.81 L59.20,314.91 L56.84,306.81 L54.48,298.51 L52.11,290.00 L49.73,281.25 L47.34,272.27 L44.95,263.03 L42.56,253.53 L40.16,243.74 L37.76,233.65 L35.36,223.23 L32.96,212.48 L30.56,201.36 L28.17,189.85 L25.78,177.92 L23.41,165.54 L21.05,152.67 L18.71,139.27 L16.40,125.31 L14.12,110.72 L11.88,95.45" class="da"/>
<path d="M420.83,865.33 L419.51,863.84 L418.18,862.34 L416.85,860.83 L415.52,859.32 L414.19,857.80 L412.85,856.27 L411.51,854.74 L410.16,853.20 L408.82,851.65 L407.46,850.09 L406.11,848.53 L404.75,846.96 L403.39,845.38 L402.03,843.80 L400.66,842.20 L399.29,840.60 L397.91,838.99 L396.53,837.37 L395.15,835.75 L393.76,834.12 L392.37,832.47 L390.98,830.82 L389.58,829.17 L388.18,827.50 L386.78,825.82 L385.37,824.14 L383.96,822.45 L382.54,820.75 L381.12,819.04 L379.70,817.32 L378.27,815.59 L376.84,813.85 L375.41,812.10 L373.97,810.35 L372.53,808.58 L371.08,806.81 L369.63,805.02 L368.17,803.23 L366.71,801.42 L365.25,799.61 L363.78,797.79 L362.31,795.95 L360.84,794.11 L359.36,792.25 L357.87,790.38 L356.38,788.51 L354.89,786.62 L353.39,784.72 L351.89,782.81 L350.39,780.89 L348.88,778.96 L347.36,777.01 L345.84,775.06 L344.32,773.09 L342.79,771.11 L341.26,769.12 L339.72,767.12 L338.18,765.10 L336.63,763.07 L335.08,761.03 L333.52,758.98 L331.96,756.91 L330.39,754.83 L328.82,752.74 L327.24,750.63 L325.66,748.52 L324.07,746.38 L322.48,744.23 L320.88,742.07 L319.28,739.90 L317.67,737.70 L316.06,735.50 L314.44,733.28 L312.82,731.04 L311.19,728.79 L309.55,726.52 L307.91,724.24 L306.27,721.94 L304.62,719.63 L302.96,717.30 L301.30,714.95 L299.63,712.58 L297.96,710.20 L296.28,707.80 L294.59,705.39 L292.90,702.95 L291.20,700.50 L289.50,698.02 L287.79,695.53 L286.07,693.02 L284.35,690.49 L282.62,687.95 L280.88,685.38 L279.14,682.79 L277.39,680.18 L275.64,677.55 L273.88,674.89 L272.11,672.22 L270.33,669.52 L268.55,666.81 L266.76,664.06 L264.97,661.30 L263.17,658.51 L261.36,655.70 L259.54,652.86 L257.72,650.00 L255.88,647.12 L254.05,644.21 L252.20,641.27 L250.35,638.30 L248.48,635.31 L246.62,632.29 L244.74,629.25 L242.85,626.17 L240.96,623.06 L239.06,619.93 L237.15,616.76 L235.24,613.57 L233.31,610.34 L231.38,607.08 L229.44,603.79 L227.49,600.46 L225.53,597.10 L223.56,593.71 L221.58,590.28 L219.60,586.81 L217.60,583.31 L215.60,579.77 L213.59,576.19 L211.57,572.57 L209.54,568.91 L207.49,565.20 L205.44,561.46 L203.38,557.67 L201.31,553.84 L199.23,549.96 L197.14,546.04 L195.04,542.07 L192.93,538.05 L190.81,533.98 L188.68,529.86 L186.54,525.68 L184.38,521.45 L182.22,517.17 L180.05,512.83 L177.86,508.43 L175.66,503.98 L173.45,499.46 L171.23,494.87 L169.00,490.23 L166.76,485.51 L164.50,480.73 L162.23,475.87 L159.95,470.95 L157.66,465.94 L155.35,460.86 L153.04,455.70 L150.71,450.46 L148.36,445.13 L146.01,439.71 L143.64,434.21 L141.26,428.60 L138.86,422.90 L136.45,417.10 L134.03,411.20 L131.59,405.19 L129.14,399.06 L126.68,392.82 L124.20,386.45 L121.70,379.96 L119.20,373.34 L116.68,366.58 L114.14,359.68 L111.59,352.63 L109.03,345.43 L106.45,338.06 L103.86,330.52 L101.26,322.81 L98.64,314.91 L96.01,306.81 L93.36,298.51 L90.70,290.00 L88.03,281.25 L85.35,272.27 L82.65,263.03 L79.94,253.53 L77.23,243.74 L74.50,233.65 L71.77,223.23 L69.03,212.48 L66.28,201.36 L63.53,189.85 L60.78,177.92 L58.03,165.54 L55.29,152.67 L52.55,139.27 L49.83,125.31 L47.12,110.72 L44.44,95.45" class="da"/>
<path d="M484.59,865.33 L483.19,863.84 L481.78,862.34 L480.37,860.83 L478.95,859.32 L477.53,857.80 L476.11,856.27 L474.68,854.74 L473.25,853.20 L471.82,851.65 L470.38,850.09 L468.94,848.53 L467.50,846.96 L466.05,845.38 L464.60,843.80 L463.15,842.20 L461.69,840.60 L460.22,838.99 L458.76,837.37 L457.29,835.75 L455.81,834.12 L454.33,832.47 L452.85,830.82 L451.36,829.17 L449.87,827.50 L448.38,825.82 L446.88,824.14 L445.38,822.45 L443.87,820.75 L442.36,819.04 L440.85,817.32 L439.33,815.59 L437.80,813.85 L436.28,812.10 L434.74,810.35 L433.21,808.58 L431.67,806.81 L430.12,805.02 L428.57,803.23 L427.02,801.42 L425.46,799.61 L423.90,797.79 L422.33,795.95 L420.76,794.11 L419.18,792.25 L417.60,790.38 L416.01,788.51 L414.42,786.62 L412.83,784.72 L411.23,782.81 L409.62,780.89 L408.01,778.96 L406.39,777.01 L404.77,775.06 L403.15,773.09 L401.52,771.11 L399.88,769.12 L398.24,767.12 L396.60,765.10 L394.95,763.07 L393.29,761.03 L391.63,758.98 L389.96,756.91 L388.29,754.83 L386.61,752.74 L384.93,750.63 L383.24,748.52 L381.55,746.38 L379.85,744.23 L378.14,742.07 L376.43,739.90 L374.72,737.70 L372.99,735.50 L371.26,733.28 L369.53,731.04 L367.79,728.79 L366.04,726.52 L364.29,724.24 L362.53,721.94 L360.77,719.63 L359.00,717.30 L357.22,714.95 L355.44,712.58 L353.65,710.20 L351.85,707.80 L350.05,705.39 L348.24,702.95 L346.42,700.50 L344.60,698.02 L342.77,695.53 L340.93,693.02 L339.09,690.49 L337.24,687.95 L335.38,685.38 L333.51,682.79 L331.64,680.18 L329.76,677.55 L327.88,674.89 L325.98,672.22 L324.08,669.52 L322.17,666.81 L320.26,664.06 L318.33,661.30 L316.40,658.51 L314.46,655.70 L312.51,652.86 L310.55,650.00 L308.59,647.12 L306.62,644.21 L304.64,641.27 L302.65,638.30 L300.65,635.31 L298.65,632.29 L296.63,629.25 L294.61,626.17 L292.57,623.06 L290.53,619.93 L288.48,616.76 L286.42,613.57 L284.35,610.34 L282.28,607.08 L280.19,603.79 L278.09,600.46 L275.98,597.10 L273.87,593.71 L271.74,590.28 L269.60,586.81 L267.46,583.31 L265.30,579.77 L263.13,576.19 L260.95,572.57 L258.77,568.91 L256.57,565.20 L254.35,561.46 L252.13,557.67 L249.90,553.84 L247.66,549.96 L245.40,546.04 L243.13,542.07 L240.85,538.05 L238.56,533.98 L236.26,529.86 L233.95,525.68 L231.62,521.45 L229.28,517.17 L226.92,512.83 L224.56,508.43 L222.18,503.98 L219.79,499.46 L217.38,494.87 L214.96,490.23 L212.53,485.51 L210.08,480.73 L207.62,475.87 L205.15,470.95 L202.66,465.94 L200.16,460.86 L197.64,455.70 L195.10,450.46 L192.55,445.13 L189.99,439.71 L187.41,434.21 L184.81,428.60 L182.20,422.90 L179.57,417.10 L176.93,411.20 L174.27,405.19 L171.59,399.06 L168.89,392.82 L166.18,386.45 L163.45,379.96 L160.70,373.34 L157.94,366.58 L155.16,359.68 L152.36,352.63 L149.54,345.43 L146.70,338.06 L143.85,330.52 L140.97,322.81 L138.08,314.91 L135.17,306.81 L132.24,298.51 L129.30,290.00 L126.33,281.25 L123.35,272.27 L120.35,263.03 L117.33,253.53 L114.29,243.74 L111.24,233.65 L108.18,223.23 L105.10,212.48 L102.00,201.36 L98.90,189.85 L95.78,177.92 L92.65,165.54 L89.52,152.67 L86.39,139.27 L83.26,125.31 L80.13,110.72 L77.01,95.45" class="da"/>
<path d="M548.35,865.33 L546.87,863.84 L545.37,862.34 L543.88,860.83 L542.38,859.32 L540.88,857.80 L539.37,856.27 L537.86,854.74 L536.35,853.20 L534.83,851.65 L533.31,850.09 L531.78,848.53 L530.25,846.96 L528.72,845.38 L527.18,843.80 L525.63,842.20 L524.09,840.60 L522.54,838.99 L520.98,837.37 L519.42,835.75 L517.86,834.12 L516.29,832.47 L514.72,830.82 L513.15,829.17 L511.57,827.50 L509.98,825.82 L508.39,824.14 L506.80,822.45 L505.20,820.75 L503.60,819.04 L501.99,817.32 L500.38,815.59 L498.77,813.85 L497.14,812.10 L495.52,810.35 L493.89,808.58 L492.26,806.81 L490.62,805.02 L488.97,803.23 L487.32,801.42 L485.67,799.61 L484.01,797.79 L482.35,795.95 L480.68,794.11 L479.00,792.25 L477.32,790.38 L475.64,788.51 L473.95,786.62 L472.26,784.72 L470.56,782.81 L468.85,780.89 L467.14,778.96 L465.43,777.01 L463.71,775.06 L461.98,773.09 L460.25,771.11 L458.51,769.12 L456.77,767.12 L455.02,765.10 L453.27,763.07 L451.51,761.03 L449.74,758.98 L447.97,756.91 L446.19,754.83 L444.41,752.74 L442.62,750.63 L440.83,748.52 L439.02,746.38 L437.22,744.23 L435.40,742.07 L433.58,739.90 L431.76,737.70 L429.93,735.50 L428.09,733.28 L426.24,731.04 L424.39,728.79 L422.53,726.52 L420.67,724.24 L418.80,721.94 L416.92,719.63 L415.03,717.30 L413.14,714.95 L411.24,712.58 L409.34,710.20 L407.42,707.80 L405.50,705.39 L403.58,702.95 L401.64,700.50 L399.70,698.02 L397.75,695.53 L395.79,693.02 L393.83,690.49 L391.86,687.95 L389.88,685.38 L387.89,682.79 L385.89,680.18 L383.89,677.55 L381.88,674.89 L379.86,672.22 L377.83,669.52 L375.79,666.81 L373.75,664.06 L371.69,661.30 L369.63,658.51 L367.56,655.70 L365.48,652.86 L363.39,650.00 L361.30,647.12 L359.19,644.21 L357.08,641.27 L354.95,638.30 L352.82,635.31 L350.67,632.29 L348.52,629.25 L346.36,626.17 L344.19,623.06 L342.00,619.93 L339.81,616.76 L337.61,613.57 L335.40,610.34 L333.17,607.08 L330.94,603.79 L328.70,600.46 L326.44,597.10 L324.17,593.71 L321.90,590.28 L319.61,586.81 L317.31,583.31 L315.00,579.77 L312.68,576.19 L310.34,572.57 L307.99,568.91 L305.64,565.20 L303.27,561.46 L300.88,557.67 L298.49,553.84 L296.08,549.96 L293.66,546.04 L291.22,542.07 L288.78,538.05 L286.32,533.98 L283.84,529.86 L281.35,525.68 L278.85,521.45 L276.33,517.17 L273.80,512.83 L271.26,508.43 L268.70,503.98 L266.12,499.46 L263.53,494.87 L260.93,490.23 L258.31,485.51 L255.67,480.73 L253.01,475.87 L250.35,470.95 L247.66,465.94 L244.96,460.86 L242.24,455.70 L239.50,450.46 L236.74,445.13 L233.97,439.71 L231.18,434.21 L228.37,428.60 L225.54,422.90 L222.69,417.10 L219.83,411.20 L216.94,405.19 L214.04,399.06 L211.11,392.82 L208.16,386.45 L205.20,379.96 L202.21,373.34 L199.20,366.58 L196.17,359.68 L193.12,352.63 L190.05,345.43 L186.95,338.06 L183.83,330.52 L180.69,322.81 L177.52,314.91 L174.34,306.81 L171.12,298.51 L167.89,290.00 L164.63,281.25 L161.35,272.27 L158.04,263.03 L154.71,253.53 L151.36,243.74 L147.99,233.65 L144.59,223.23 L141.17,212.48 L137.72,201.36 L134.26,189.85 L130.78,177.92 L127.28,165.54 L123.76,152.67 L120.23,139.27 L116.69,125.31 L113.14,110.72 L109.58,95.45" class="da"/>
<path d="M612.12,865.33 L610.55,863.84 L608.97,862.34 L607.39,860.83 L605.81,859.32 L604.22,857.80 L602.63,856.27 L601.04,854.74 L599.44,853.20 L597.83,851.65 L596.23,850.09 L594.61,848.53 L593.00,846.96 L591.38,845.38 L589.75,843.80 L588.12,842.20 L586.49,840.60 L584.85,838.99 L583.21,837.37 L581.56,835.75 L579.91,834.12 L578.25,832.47 L576.59,830.82 L574.93,829.17 L573.26,827.50 L571.58,825.82 L569.90,824.14 L568.22,822.45 L566.53,820.75 L564.84,819.04 L563.14,817.32 L561.44,815.59 L559.73,813.85 L558.01,812.10 L556.30,810.35 L554.57,808.58 L552.84,806.81 L551.11,805.02 L549.37,803.23 L547.63,801.42 L545.88,799.61 L544.12,797.79 L542.36,795.95 L540.60,794.11 L538.83,792.25 L537.05,790.38 L535.27,788.51 L533.48,786.62 L531.69,784.72 L529.89,782.81 L528.09,780.89 L526.28,778.96 L524.46,777.01 L522.64,775.06 L520.81,773.09 L518.98,771.11 L517.14,769.12 L515.30,767.12 L513.44,765.10 L511.59,763.07 L509.72,761.03 L507.85,758.98 L505.98,756.91 L504.09,754.83 L502.21,752.74 L500.31,750.63 L498.41,748.52 L496.50,746.38 L494.59,744.23 L492.66,742.07 L490.74,739.90 L488.80,737.70 L486.86,735.50 L484.91,733.28 L482.95,731.04 L480.99,728.79 L479.02,726.52 L477.04,724.24 L475.06,721.94 L473.07,719.63 L471.07,717.30 L469.06,714.95 L467.05,712.58 L465.03,710.20 L463.00,707.80 L460.96,705.39 L458.91,702.95 L456.86,700.50 L454.80,698.02 L452.73,695.53 L450.65,693.02 L448.57,690.49 L446.47,687.95 L444.37,685.38 L442.26,682.79 L440.14,680.18 L438.01,677.55 L435.88,674.89 L433.73,672.22 L431.58,669.52 L429.41,666.81 L427.24,664.06 L425.06,661.30 L422.87,658.51 L420.67,655.70 L418.46,652.86 L416.23,650.00 L414.00,647.12 L411.77,644.21 L409.52,641.27 L407.26,638.30 L404.98,635.31 L402.70,632.29 L400.41,629.25 L398.11,626.17 L395.80,623.06 L393.48,619.93 L391.14,616.76 L388.80,613.57 L386.44,610.34 L384.07,607.08 L381.69,603.79 L379.30,600.46 L376.90,597.10 L374.48,593.71 L372.05,590.28 L369.61,586.81 L367.16,583.31 L364.70,579.77 L362.22,576.19 L359.73,572.57 L357.22,568.91 L354.71,565.20 L352.18,561.46 L349.63,557.67 L347.07,553.84 L344.50,549.96 L341.92,546.04 L339.31,542.07 L336.70,538.05 L334.07,533.98 L331.42,529.86 L328.76,525.68 L326.08,521.45 L323.39,517.17 L320.68,512.83 L317.96,508.43 L315.22,503.98 L312.46,499.46 L309.68,494.87 L306.89,490.23 L304.08,485.51 L301.25,480.73 L298.41,475.87 L295.54,470.95 L292.66,465.94 L289.76,460.86 L286.83,455.70 L283.89,450.46 L280.93,445.13 L277.95,439.71 L274.95,434.21 L271.93,428.60 L268.88,422.90 L265.82,417.10 L262.73,411.20 L259.62,405.19 L256.48,399.06 L253.33,392.82 L250.15,386.45 L246.94,379.96 L243.72,373.34 L240.46,366.58 L237.19,359.68 L233.88,352.63 L230.55,345.43 L227.20,338.06 L223.81,330.52 L220.40,322.81 L216.97,314.91 L213.50,306.81 L210.01,298.51 L206.48,290.00 L202.93,281.25 L199.35,272.27 L195.74,263.03 L192.10,253.53 L188.43,243.74 L184.73,233.65 L181.00,223.23 L177.24,212.48 L173.45,201.36 L169.63,189.85 L165.78,177.92 L161.90,165.54 L158.00,152.67 L154.07,139.27 L150.11,125.31 L146.14,110.72 L142.15,95.45" class="da"/>
<path d="M675.88,865.33 L674.23,863.84 L672.57,862.34 L670.90,860.83 L669.24,859.32 L667.57,857.80 L665.89,856.27 L664.21,854.74 L662.53,853.20 L660.84,851.65 L659.15,850.09 L657.45,848.53 L655.75,846.96 L654.04,845.38 L652.33,843.80 L650.61,842.20 L648.89,840.60 L647.17,838.99 L645.44,837.37 L643.70,835.75 L641.96,834.12 L640.22,832.47 L638.47,830.82 L636.71,829.17 L634.95,827.50 L633.19,825.82 L631.42,824.14 L629.64,822.45 L627.86,820.75 L626.08,819.04 L624.29,817.32 L622.49,815.59 L620.69,813.85 L618.88,812.10 L617.07,810.35 L615.25,808.58 L613.43,806.81 L611.60,805.02 L609.77,803.23 L607.93,801.42 L606.09,799.61 L604.24,797.79 L602.38,795.95 L600.52,794.11 L598.65,792.25 L596.78,790.38 L594.90,788.51 L593.01,786.62 L591.12,784.72 L589.22,782.81 L587.32,780.89 L585.41,778.96 L583.49,777.01 L581.57,775.06 L579.64,773.09 L577.71,771.11 L575.77,769.12 L573.82,767.12 L571.87,765.10 L569.91,763.07 L567.94,761.03 L565.96,758.98 L563.98,756.91 L562.00,754.83 L560.00,752.74 L558.00,750.63 L555.99,748.52 L553.98,746.38 L551.95,744.23 L549.92,742.07 L547.89,739.90 L545.84,737.70 L543.79,735.50 L541.73,733.28 L539.67,731.04 L537.59,728.79 L535.51,726.52 L533.42,724.24 L531.32,721.94 L529.22,719.63 L527.10,717.30 L524.98,714.95 L522.85,712.58 L520.72,710.20 L518.57,707.80 L516.42,705.39 L514.25,702.95 L512.08,700.50 L509.90,698.02 L507.71,695.53 L505.51,693.02 L503.31,690.49 L501.09,687.95 L498.87,685.38 L496.63,682.79 L494.39,680.18 L492.14,677.55 L489.88,674.89 L487.61,672.22 L485.32,669.52 L483.03,666.81 L480.73,664.06 L478.42,661.30 L476.10,658.51 L473.77,655.70 L471.43,652.86 L469.07,650.00 L466.71,647.12 L464.34,644.21 L461.95,641.27 L459.56,638.30 L457.15,635.31 L454.73,632.29 L452.30,629.25 L449.86,626.17 L447.41,623.06 L444.95,619.93 L442.47,616.76 L439.98,613.57 L437.48,610.34 L434.97,607.08 L432.44,603.79 L429.90,600.46 L427.35,597.10 L424.79,593.71 L422.21,590.28 L419.62,586.81 L417.01,583.31 L414.40,579.77 L411.76,576.19 L409.12,572.57 L406.45,568.91 L403.78,565.20 L401.09,561.46 L398.38,557.67 L395.66,553.84 L392.92,549.96 L390.17,546.04 L387.40,542.07 L384.62,538.05 L381.82,533.98 L379.00,529.86 L376.17,525.68 L373.32,521.45 L370.45,517.17 L367.56,512.83 L364.66,508.43 L361.73,503.98 L358.79,499.46 L355.83,494.87 L352.85,490.23 L349.85,485.51 L346.84,480.73 L343.80,475.87 L340.74,470.95 L337.66,465.94 L334.56,460.86 L331.43,455.70 L328.29,450.46 L325.12,445.13 L321.93,439.71 L318.72,434.21 L315.48,428.60 L312.22,422.90 L308.94,417.10 L305.63,411.20 L302.29,405.19 L298.93,399.06 L295.55,392.82 L292.13,386.45 L288.69,379.96 L285.22,373.34 L281.73,366.58 L278.20,359.68 L274.65,352.63 L271.06,345.43 L267.44,338.06 L263.80,330.52 L260.12,322.81 L256.41,314.91 L252.67,306.81 L248.89,298.51 L245.08,290.00 L241.23,281.25 L237.35,272.27 L233.44,263.03 L229.49,253.53 L225.50,243.74 L221.47,233.65 L217.41,223.23 L213.31,212.48 L209.17,201.36 L204.99,189.85 L200.78,177.92 L196.52,165.54 L192.23,152.67 L187.90,139.27 L183.54,125.31 L179.15,110.72 L174.72,95.45" class="da"/>
<path d="M739.64,865.33 L737.90,863.84 L736.16,862.34 L734.42,860.83 L732.67,859.32 L730.91,857.80 L729.15,856.27 L727.39,854.74 L725.62,853.20 L723.85,851.65 L722.07,850.09 L720.28,848.53 L718.50,846.96 L716.70,845.38 L714.90,843.80 L713.10,842.20 L711.29,840.60 L709.48,838.99 L707.66,837.37 L705.84,835.75 L704.01,834.12 L702.18,832.47 L700.34,830.82 L698.49,829.17 L696.64,827.50 L694.79,825.82 L692.93,824.14 L691.06,822.45 L689.19,820.75 L687.31,819.04 L685.43,817.32 L683.54,815.59 L681.65,813.85 L679.75,812.10 L677.85,810.35 L675.94,808.58 L674.02,806.81 L672.10,805.02 L670.17,803.23 L668.24,801.42 L666.30,799.61 L664.35,797.79 L662.40,795.95 L660.44,794.11 L658.47,792.25 L656.50,790.38 L654.53,788.51 L652.54,786.62 L650.55,784.72 L648.56,782.81 L646.55,780.89 L644.54,778.96 L642.53,777.01 L640.50,775.06 L638.48,773.09 L636.44,771.11 L634.40,769.12 L632.35,767.12 L630.29,765.10 L628.23,763.07 L626.15,761.03 L624.08,758.98 L621.99,756.91 L619.90,754.83 L617.80,752.74 L615.69,750.63 L613.58,748.52 L611.45,746.38 L609.32,744.23 L607.19,742.07 L605.04,739.90 L602.89,737.70 L600.72,735.50 L598.56,733.28 L596.38,731.04 L594.19,728.79 L592.00,726.52 L589.80,724.24 L587.59,721.94 L585.37,719.63 L583.14,717.30 L580.90,714.95 L578.66,712.58 L576.41,710.20 L574.14,707.80 L571.87,705.39 L569.59,702.95 L567.30,700.50 L565.00,698.02 L562.69,695.53 L560.38,693.02 L558.05,690.49 L555.71,687.95 L553.36,685.38 L551.01,682.79 L548.64,680.18 L546.26,677.55 L543.88,674.89 L541.48,672.22 L539.07,669.52 L536.65,666.81 L534.22,664.06 L531.78,661.30 L529.33,658.51 L526.87,655.70 L524.40,652.86 L521.91,650.00 L519.42,647.12 L516.91,644.21 L514.39,641.27 L511.86,638.30 L509.32,635.31 L506.76,632.29 L504.20,629.25 L501.62,626.17 L499.02,623.06 L496.42,619.93 L493.80,616.76 L491.17,613.57 L488.52,610.34 L485.87,607.08 L483.19,603.79 L480.51,600.46 L477.81,597.10 L475.10,593.71 L472.37,590.28 L469.62,586.81 L466.87,583.31 L464.09,579.77 L461.31,576.19 L458.50,572.57 L455.68,568.91 L452.85,565.20 L450.00,561.46 L447.13,557.67 L444.25,553.84 L441.35,549.96 L438.43,546.04 L435.49,542.07 L432.54,538.05 L429.57,533.98 L426.58,529.86 L423.58,525.68 L420.55,521.45 L417.50,517.17 L414.44,512.83 L411.36,508.43 L408.25,503.98 L405.13,499.46 L401.98,494.87 L398.82,490.23 L395.63,485.51 L392.42,480.73 L389.19,475.87 L385.93,470.95 L382.66,465.94 L379.36,460.86 L376.03,455.70 L372.68,450.46 L369.31,445.13 L365.91,439.71 L362.49,434.21 L359.04,428.60 L355.56,422.90 L352.06,417.10 L348.53,411.20 L344.97,405.19 L341.38,399.06 L337.76,392.82 L334.12,386.45 L330.44,379.96 L326.73,373.34 L322.99,366.58 L319.21,359.68 L315.41,352.63 L311.57,345.43 L307.69,338.06 L303.78,330.52 L299.84,322.81 L295.85,314.91 L291.83,306.81 L287.77,298.51 L283.67,290.00 L279.54,281.25 L275.36,272.27 L271.14,263.03 L266.87,253.53 L262.57,243.74 L258.21,233.65 L253.82,223.23 L249.38,212.48 L244.89,201.36 L240.36,189.85 L235.77,177.92 L231.14,165.54 L226.47,152.67 L221.74,139.27 L216.97,125.31 L212.15,110.72 L207.29,95.45" class="da"/>
<path d="M803.40,865.33 L801.58,863.84 L799.76,862.34 L797.93,860.83 L796.10,859.32 L794.26,857.80 L792.41,856.27 L790.56,854.74 L788.71,853.20 L786.85,851.65 L784.99,850.09 L783.12,848.53 L781.24,846.96 L779.36,845.38 L777.48,843.80 L775.59,842.20 L773.69,840.60 L771.79,838.99 L769.89,837.37 L767.98,835.75 L766.06,834.12 L764.14,832.47 L762.21,830.82 L760.27,829.17 L758.33,827.50 L756.39,825.82 L754.44,824.14 L752.48,822.45 L750.52,820.75 L748.55,819.04 L746.58,817.32 L744.60,815.59 L742.61,813.85 L740.62,812.10 L738.62,810.35 L736.62,808.58 L734.61,806.81 L732.59,805.02 L730.57,803.23 L728.54,801.42 L726.50,799.61 L724.46,797.79 L722.41,795.95 L720.36,794.11 L718.30,792.25 L716.23,790.38 L714.15,788.51 L712.07,786.62 L709.98,784.72 L707.89,782.81 L705.79,780.89 L703.68,778.96 L701.56,777.01 L699.44,775.06 L697.31,773.09 L695.17,771.11 L693.02,769.12 L690.87,767.12 L688.71,765.10 L686.54,763.07 L684.37,761.03 L682.19,758.98 L680.00,756.91 L677.80,754.83 L675.59,752.74 L673.38,750.63 L671.16,748.52 L668.93,746.38 L666.69,744.23 L664.45,742.07 L662.19,739.90 L659.93,737.70 L657.66,735.50 L655.38,733.28 L653.09,731.04 L650.79,728.79 L648.49,726.52 L646.17,724.24 L643.85,721.94 L641.52,719.63 L639.18,717.30 L636.82,714.95 L634.46,712.58 L632.10,710.20 L629.72,707.80 L627.33,705.39 L624.93,702.95 L622.52,700.50 L620.10,698.02 L617.68,695.53 L615.24,693.02 L612.79,690.49 L610.33,687.95 L607.86,685.38 L605.38,682.79 L602.89,680.18 L600.39,677.55 L597.88,674.89 L595.35,672.22 L592.82,669.52 L590.27,666.81 L587.72,664.06 L585.15,661.30 L582.57,658.51 L579.98,655.70 L577.37,652.86 L574.75,650.00 L572.13,647.12 L569.48,644.21 L566.83,641.27 L564.16,638.30 L561.49,635.31 L558.79,632.29 L556.09,629.25 L553.37,626.17 L550.64,623.06 L547.89,619.93 L545.13,616.76 L542.36,613.57 L539.57,610.34 L536.76,607.08 L533.95,603.79 L531.11,600.46 L528.27,597.10 L525.40,593.71 L522.52,590.28 L519.63,586.81 L516.72,583.31 L513.79,579.77 L510.85,576.19 L507.89,572.57 L504.91,568.91 L501.92,565.20 L498.91,561.46 L495.88,557.67 L492.83,553.84 L489.77,549.96 L486.69,546.04 L483.58,542.07 L480.46,538.05 L477.32,533.98 L474.16,529.86 L470.98,525.68 L467.78,521.45 L464.56,517.17 L461.32,512.83 L458.06,508.43 L454.77,503.98 L451.46,499.46 L448.13,494.87 L444.78,490.23 L441.40,485.51 L438.00,480.73 L434.58,475.87 L431.13,470.95 L427.66,465.94 L424.16,460.86 L420.63,455.70 L417.08,450.46 L413.50,445.13 L409.89,439.71 L406.26,434.21 L402.60,428.60 L398.90,422.90 L395.18,417.10 L391.43,411.20 L387.65,405.19 L383.83,399.06 L379.98,392.82 L376.10,386.45 L372.18,379.96 L368.24,373.34 L364.25,366.58 L360.23,359.68 L356.17,352.63 L352.07,345.43 L347.94,338.06 L343.77,330.52 L339.55,322.81 L335.30,314.91 L331.00,306.81 L326.65,298.51 L322.27,290.00 L317.84,281.25 L313.36,272.27 L308.83,263.03 L304.26,253.53 L299.63,243.74 L294.96,233.65 L290.23,223.23 L285.45,212.48 L280.61,201.36 L275.72,189.85 L270.77,177.92 L265.77,165.54 L260.70,152.67 L255.58,139.27 L250.40,125.31 L245.16,110.72 L239.86,95.45" class="da"/>
<path d="M228.97,865.33 L227.96,863.84 L226.94,862.34 L225.92,860.83 L224.90,859.32 L223.87,857.80 L222.84,856.27 L221.81,854.74 L220.77,853.20 L219.72,851.65 L218.68,850.09 L217.63,848.53 L216.58,846.96 L215.52,845.38 L214.46,843.80 L213.40,842.20 L212.33,840.60 L211.26,838.99 L210.19,837.37 L209.11,835.75 L208.03,834.12 L206.94,832.47 L205.86,830.82 L204.76,829.17 L203.67,827.50 L202.57,825.82 L201.47,824.14 L200.36,822.45 L199.25,820.75 L198.14,819.04 L197.02,817.32 L195.90,815.59 L194.77,813.85 L193.64,812.10 L192.51,810.35 L191.38,808.58 L190.24,806.81 L189.09,805.02 L187.95,803.23 L186.80,801.42 L185.64,799.61 L184.49,797.79 L183.32,795.95 L182.16,794.11 L180.99,792.25 L179.82,790.38 L178.64,788.51 L177.46,786.62 L176.28,784.72 L175.09,782.81 L173.90,780.89 L172.70,778.96 L171.50,777.01 L170.30,775.06 L169.10,773.09 L167.89,771.11 L166.67,769.12 L165.45,767.12 L164.23,765.10 L163.00,763.07 L161.77,761.03 L160.54,758.98 L159.30,756.91 L158.06,754.83 L156.82,752.74 L155.57,750.63 L154.31,748.52 L153.06,746.38 L151.79,744.23 L150.53,742.07 L149.26,739.90 L147.99,737.70 L146.71,735.50 L145.43,733.28 L144.14,731.04 L142.85,728.79 L141.56,726.52 L140.26,724.24 L138.96,721.94 L137.65,719.63 L136.34,717.30 L135.02,714.95 L133.70,712.58 L132.38,710.20 L131.05,707.80 L129.72,705.39 L128.38,702.95 L127.04,700.50 L125.69,698.02 L124.34,695.53 L122.99,693.02 L121.63,690.49 L120.27,687.95 L118.90,685.38 L117.53,682.79 L116.15,680.18 L114.77,677.55 L113.38,674.89 L111.99,672.22 L110.59,669.52 L109.19,666.81 L107.79,664.06 L106.38,661.30 L104.96,658.51 L103.54,655.70 L102.12,652.86 L100.69,650.00 L99.26,647.12 L97.82,644.21 L96.37,641.27 L94.92,638.30 L93.47,635.31 L92.01,632.29 L90.54,629.25 L89.07,626.17 L87.60,623.06 L86.12,619.93 L84.63,616.76 L83.14,613.57 L81.65,610.34 L80.14,607.08 L78.64,603.79 L77.12,600.46 L75.61,597.10 L74.08,593.71 L72.55,590.28 L71.02,586.81 L69.48,583.31 L67.93,579.77 L66.38,576.19 L64.82,572.57 L63.26,568.91 L61.69,565.20 L60.12,561.46 L58.54,557.67 L56.95,553.84 L55.36,549.96 L53.76,546.04 L52.16,542.07 L50.55,538.05 L48.93,533.98 L47.31,529.86 L45.68,525.68 L44.05,521.45 L42.41,517.17 L40.76,512.83 L39.11,508.43 L37.45,503.98 L35.78,499.46 L34.11,494.87 L32.44,490.23 L30.75,485.51 L29.06,480.73 L27.37,475.87 L25.67,470.95 L23.96,465.94 L22.25,460.86 L20.53,455.70 L18.80,450.46 L17.07,445.13 L15.33,439.71 L13.59,434.21 L11.84,428.60 L10.09,422.90 L8.33,417.10 L6.56,411.20 L4.79,405.19 L3.02,399.06 L1.24,392.82 L-0.54,386.45 L-2.33,379.96 L-4.12,373.34 L-5.92,366.58 L-7.72,359.68 L-9.52,352.63 L-11.32,345.43 L-13.13,338.06 L-14.94,330.52 L-16.75,322.81 L-18.55,314.91 L-20.36,306.81 L-22.17,298.51 L-23.97,290.00 L-25.77,281.25 L-27.57,272.27 L-29.35,263.03 L-31.14,253.53 L-32.91,243.74 L-34.67,233.65 L-36.41,223.23 L-38.14,212.48 L-39.86,201.36 L-41.54,189.85 L-43.21,177.92 L-44.84,165.54 L-46.43,152.67 L-47.99,139.27 L-49.49,125.31 L-50.94,110.72 L-52.32,95.45" class="ma"/>
<path d="M291.94,865.33 L290.92,863.84 L289.90,862.34 L288.88,860.83 L287.85,859.32 L286.81,857.80 L285.77,856.27 L284.73,854.74 L283.68,853.20 L282.63,851.65 L281.57,850.09 L280.50,848.53 L279.43,846.96 L278.36,845.38 L277.28,843.80 L276.19,842.20 L275.11,840.60 L274.01,838.99 L272.91,837.37 L271.81,835.75 L270.70,834.12 L269.58,832.47 L268.46,830.82 L267.34,829.17 L266.21,827.50 L265.08,825.82 L263.94,824.14 L262.79,822.45 L261.64,820.75 L260.49,819.04 L259.33,817.32 L258.16,815.59 L257.00,813.85 L255.82,812.10 L254.64,810.35 L253.46,808.58 L252.27,806.81 L251.07,805.02 L249.87,803.23 L248.67,801.42 L247.46,799.61 L246.24,797.79 L245.02,795.95 L243.80,794.11 L242.57,792.25 L241.33,790.38 L240.09,788.51 L238.85,786.62 L237.60,784.72 L236.34,782.81 L235.08,780.89 L233.81,778.96 L232.54,777.01 L231.27,775.06 L229.99,773.09 L228.70,771.11 L227.41,769.12 L226.11,767.12 L224.81,765.10 L223.51,763.07 L222.19,761.03 L220.88,758.98 L219.56,756.91 L218.23,754.83 L216.90,752.74 L215.56,750.63 L214.22,748.52 L212.87,746.38 L211.52,744.23 L210.16,742.07 L208.79,739.90 L207.43,737.70 L206.05,735.50 L204.67,733.28 L203.29,731.04 L201.90,728.79 L200.50,726.52 L199.10,724.24 L197.70,721.94 L196.29,719.63 L194.87,717.30 L193.45,714.95 L192.02,712.58 L190.59,710.20 L189.15,707.80 L187.71,705.39 L186.26,702.95 L184.81,700.50 L183.35,698.02 L181.88,695.53 L180.41,693.02 L178.93,690.49 L177.45,687.95 L175.96,685.38 L174.47,682.79 L172.97,680.18 L171.47,677.55 L169.96,674.89 L168.44,672.22 L166.92,669.52 L165.39,666.81 L163.86,664.06 L162.32,661.30 L160.77,658.51 L159.22,655.70 L157.66,652.86 L156.10,650.00 L154.53,647.12 L152.96,644.21 L151.38,641.27 L149.79,638.30 L148.19,635.31 L146.59,632.29 L144.99,629.25 L143.37,626.17 L141.76,623.06 L140.13,619.93 L138.50,616.76 L136.86,613.57 L135.21,610.34 L133.56,607.08 L131.90,603.79 L130.24,600.46 L128.57,597.10 L126.89,593.71 L125.20,590.28 L123.51,586.81 L121.81,583.31 L120.11,579.77 L118.39,576.19 L116.67,572.57 L114.95,568.91 L113.21,565.20 L111.47,561.46 L109.72,557.67 L107.97,553.84 L106.20,549.96 L104.43,546.04 L102.65,542.07 L100.87,538.05 L99.07,533.98 L97.27,529.86 L95.46,525.68 L93.64,521.45 L91.82,517.17 L89.99,512.83 L88.14,508.43 L86.30,503.98 L84.44,499.46 L82.57,494.87 L80.70,490.23 L78.82,485.51 L76.93,480.73 L75.03,475.87 L73.13,470.95 L71.21,465.94 L69.29,460.86 L67.36,455.70 L65.42,450.46 L63.47,445.13 L61.52,439.71 L59.55,434.21 L57.58,428.60 L55.60,422.90 L53.61,417.10 L51.61,411.20 L49.61,405.19 L47.59,399.06 L45.57,392.82 L43.54,386.45 L41.51,379.96 L39.46,373.34 L37.41,366.58 L35.35,359.68 L33.29,352.63 L31.21,345.43 L29.14,338.06 L27.05,330.52 L24.96,322.81 L22.87,314.91 L20.77,306.81 L18.66,298.51 L16.56,290.00 L14.45,281.25 L12.34,272.27 L10.23,263.03 L8.12,253.53 L6.02,243.74 L3.92,233.65 L1.82,223.23 L-0.27,212.48 L-2.34,201.36 L-4.41,189.85 L-6.45,177.92 L-8.48,165.54 L-10.48,152.67 L-12.45,139.27 L-14.39,125.31 L-16.28,110.72 L-18.12,95.45" class="ma"/>
<path d="M354.18,865.33 L353.23,863.84 L352.28,862.34 L351.32,860.83 L350.35,859.32 L349.38,857.80 L348.40,856.27 L347.42,854.74 L346.43,853.20 L345.43,851.65 L344.42,850.09 L343.41,848.53 L342.39,846.96 L341.37,845.38 L340.33,843.80 L339.29,842.20 L338.25,840.60 L337.20,838.99 L336.14,837.37 L335.07,835.75 L334.00,834.12 L332.92,832.47 L331.83,830.82 L330.74,829.17 L329.64,827.50 L328.53,825.82 L327.42,824.14 L326.29,822.45 L325.17,820.75 L324.03,819.04 L322.89,817.32 L321.74,815.59 L320.58,813.85 L319.42,812.10 L318.25,810.35 L317.07,808.58 L315.88,806.81 L314.69,805.02 L313.49,803.23 L312.28,801.42 L311.07,799.61 L309.85,797.79 L308.62,795.95 L307.39,794.11 L306.14,792.25 L304.90,790.38 L303.64,788.51 L302.37,786.62 L301.10,784.72 L299.83,782.81 L298.54,780.89 L297.25,778.96 L295.95,777.01 L294.64,775.06 L293.33,773.09 L292.00,771.11 L290.68,769.12 L289.34,767.12 L288.00,765.10 L286.65,763.07 L285.29,761.03 L283.92,758.98 L282.55,756.91 L281.17,754.83 L279.78,752.74 L278.39,750.63 L276.99,748.52 L275.58,746.38 L274.17,744.23 L272.74,742.07 L271.31,739.90 L269.88,737.70 L268.43,735.50 L266.98,733.28 L265.52,731.04 L264.05,728.79 L262.58,726.52 L261.10,724.24 L259.61,721.94 L258.12,719.63 L256.61,717.30 L255.10,714.95 L253.59,712.58 L252.06,710.20 L250.53,707.80 L248.99,705.39 L247.44,702.95 L245.89,700.50 L244.33,698.02 L242.76,695.53 L241.19,693.02 L239.60,690.49 L238.01,687.95 L236.42,685.38 L234.81,682.79 L233.20,680.18 L231.58,677.55 L229.95,674.89 L228.32,672.22 L226.67,669.52 L225.02,666.81 L223.37,664.06 L221.70,661.30 L220.03,658.51 L218.35,655.70 L216.66,652.86 L214.97,650.00 L213.26,647.12 L211.55,644.21 L209.84,641.27 L208.11,638.30 L206.38,635.31 L204.63,632.29 L202.88,629.25 L201.13,626.17 L199.36,623.06 L197.59,619.93 L195.81,616.76 L194.02,613.57 L192.22,610.34 L190.41,607.08 L188.60,603.79 L186.78,600.46 L184.95,597.10 L183.11,593.71 L181.26,590.28 L179.40,586.81 L177.54,583.31 L175.66,579.77 L173.78,576.19 L171.89,572.57 L169.99,568.91 L168.08,565.20 L166.17,561.46 L164.24,557.67 L162.31,553.84 L160.36,549.96 L158.41,546.04 L156.44,542.07 L154.47,538.05 L152.49,533.98 L150.50,529.86 L148.50,525.68 L146.49,521.45 L144.47,517.17 L142.44,512.83 L140.39,508.43 L138.34,503.98 L136.28,499.46 L134.21,494.87 L132.13,490.23 L130.04,485.51 L127.94,480.73 L125.83,475.87 L123.70,470.95 L121.57,465.94 L119.42,460.86 L117.27,455.70 L115.10,450.46 L112.92,445.13 L110.73,439.71 L108.53,434.21 L106.32,428.60 L104.10,422.90 L101.87,417.10 L99.62,411.20 L97.37,405.19 L95.10,399.06 L92.82,392.82 L90.53,386.45 L88.23,379.96 L85.91,373.34 L83.59,366.58 L81.25,359.68 L78.90,352.63 L76.55,345.43 L74.18,338.06 L71.80,330.52 L69.41,322.81 L67.01,314.91 L64.60,306.81 L62.18,298.51 L59.75,290.00 L57.31,281.25 L54.87,272.27 L52.42,263.03 L49.96,253.53 L47.50,243.74 L45.04,233.65 L42.57,223.23 L40.10,212.48 L37.63,201.36 L35.17,189.85 L32.71,177.92 L30.27,165.54 L27.83,152.67 L25.42,139.27 L23.02,125.31 L20.66,110.72 L18.33,95.45" class="ma"/>
<path d="M415.53,865.33 L414.73,863.84 L413.93,862.34 L413.12,860.83 L412.30,859.32 L411.47,857.80 L410.64,856.27 L409.80,854.74 L408.95,853.20 L408.10,851.65 L407.23,850.09 L406.36,848.53 L405.49,846.96 L404.60,845.38 L403.71,843.80 L402.80,842.20 L401.89,840.60 L400.98,838.99 L400.05,837.37 L399.12,835.75 L398.17,834.12 L397.22,832.47 L396.26,830.82 L395.29,829.17 L394.32,827.50 L393.33,825.82 L392.34,824.14 L391.34,822.45 L390.33,820.75 L389.31,819.04 L388.28,817.32 L387.24,815.59 L386.19,813.85 L385.14,812.10 L384.07,810.35 L383.00,808.58 L381.92,806.81 L380.82,805.02 L379.72,803.23 L378.61,801.42 L377.49,799.61 L376.36,797.79 L375.22,795.95 L374.07,794.11 L372.91,792.25 L371.74,790.38 L370.56,788.51 L369.37,786.62 L368.17,784.72 L366.96,782.81 L365.74,780.89 L364.51,778.96 L363.28,777.01 L362.03,775.06 L360.77,773.09 L359.50,771.11 L358.22,769.12 L356.93,767.12 L355.63,765.10 L354.32,763.07 L352.99,761.03 L351.66,758.98 L350.32,756.91 L348.97,754.83 L347.61,752.74 L346.23,750.63 L344.85,748.52 L343.45,746.38 L342.05,744.23 L340.63,742.07 L339.21,739.90 L337.77,737.70 L336.32,735.50 L334.86,733.28 L333.39,731.04 L331.91,728.79 L330.42,726.52 L328.92,724.24 L327.41,721.94 L325.89,719.63 L324.36,717.30 L322.81,714.95 L321.26,712.58 L319.69,710.20 L318.12,707.80 L316.53,705.39 L314.93,702.95 L313.33,700.50 L311.71,698.02 L310.08,695.53 L308.44,693.02 L306.79,690.49 L305.13,687.95 L303.45,685.38 L301.77,682.79 L300.08,680.18 L298.37,677.55 L296.66,674.89 L294.93,672.22 L293.20,669.52 L291.45,666.81 L289.69,664.06 L287.93,661.30 L286.15,658.51 L284.36,655.70 L282.56,652.86 L280.75,650.00 L278.93,647.12 L277.09,644.21 L275.25,641.27 L273.40,638.30 L271.53,635.31 L269.66,632.29 L267.77,629.25 L265.88,626.17 L263.97,623.06 L262.05,619.93 L260.12,616.76 L258.18,613.57 L256.23,610.34 L254.27,607.08 L252.30,603.79 L250.32,600.46 L248.32,597.10 L246.32,593.71 L244.30,590.28 L242.28,586.81 L240.24,583.31 L238.19,579.77 L236.13,576.19 L234.06,572.57 L231.97,568.91 L229.88,565.20 L227.77,561.46 L225.66,557.67 L223.53,553.84 L221.39,549.96 L219.24,546.04 L217.07,542.07 L214.89,538.05 L212.71,533.98 L210.51,529.86 L208.29,525.68 L206.07,521.45 L203.83,517.17 L201.58,512.83 L199.32,508.43 L197.05,503.98 L194.76,499.46 L192.46,494.87 L190.15,490.23 L187.82,485.51 L185.48,480.73 L183.13,475.87 L180.76,470.95 L178.38,465.94 L175.99,460.86 L173.58,455.70 L171.16,450.46 L168.72,445.13 L166.27,439.71 L163.81,434.21 L161.33,428.60 L158.83,422.90 L156.32,417.10 L153.80,411.20 L151.26,405.19 L148.70,399.06 L146.13,392.82 L143.55,386.45 L140.95,379.96 L138.33,373.34 L135.70,366.58 L133.05,359.68 L130.38,352.63 L127.70,345.43 L125.01,338.06 L122.29,330.52 L119.57,322.81 L116.82,314.91 L114.06,306.81 L111.28,298.51 L108.49,290.00 L105.69,281.25 L102.86,272.27 L100.03,263.03 L97.18,253.53 L94.32,243.74 L91.44,233.65 L88.55,223.23 L85.66,212.48 L82.75,201.36 L79.84,189.85 L76.92,177.92 L73.99,165.54 L71.07,152.67 L68.15,139.27 L65.24,125.31 L62.34,110.72 L59.46,95.45" class="ma"/>
<path d="M476.17,865.33 L475.58,863.84 L474.99,862.34 L474.39,860.83 L473.78,859.32 L473.17,857.80 L472.55,856.27 L471.93,854.74 L471.29,853.20 L470.66,851.65 L470.01,850.09 L469.36,848.53 L468.70,846.96 L468.03,845.38 L467.36,843.80 L466.68,842.20 L465.99,840.60 L465.30,838.99 L464.60,837.37 L463.89,835.75 L463.17,834.12 L462.44,832.47 L461.71,830.82 L460.97,829.17 L460.22,827.50 L459.46,825.82 L458.69,824.14 L457.92,822.45 L457.14,820.75 L456.34,819.04 L455.54,817.32 L454.73,815.59 L453.91,813.85 L453.08,812.10 L452.24,810.35 L451.40,808.58 L450.54,806.81 L449.67,805.02 L448.80,803.23 L447.91,801.42 L447.01,799.61 L446.10,797.79 L445.19,795.95 L444.26,794.11 L443.32,792.25 L442.37,790.38 L441.41,788.51 L440.44,786.62 L439.45,784.72 L438.46,782.81 L437.45,780.89 L436.44,778.96 L435.41,777.01 L434.37,775.06 L433.31,773.09 L432.25,771.11 L431.17,769.12 L430.08,767.12 L428.97,765.10 L427.86,763.07 L426.73,761.03 L425.59,758.98 L424.43,756.91 L423.26,754.83 L422.08,752.74 L420.89,750.63 L419.68,748.52 L418.46,746.38 L417.22,744.23 L415.97,742.07 L414.70,739.90 L413.42,737.70 L412.13,735.50 L410.82,733.28 L409.49,731.04 L408.16,728.79 L406.80,726.52 L405.43,724.24 L404.05,721.94 L402.65,719.63 L401.24,717.30 L399.81,714.95 L398.36,712.58 L396.90,710.20 L395.42,707.80 L393.93,705.39 L392.42,702.95 L390.89,700.50 L389.35,698.02 L387.79,695.53 L386.22,693.02 L384.63,690.49 L383.02,687.95 L381.40,685.38 L379.76,682.79 L378.10,680.18 L376.43,677.55 L374.74,674.89 L373.03,672.22 L371.31,669.52 L369.57,666.81 L367.81,664.06 L366.03,661.30 L364.24,658.51 L362.44,655.70 L360.61,652.86 L358.77,650.00 L356.91,647.12 L355.03,644.21 L353.14,641.27 L351.23,638.30 L349.31,635.31 L347.36,632.29 L345.40,629.25 L343.43,626.17 L341.43,623.06 L339.42,619.93 L337.39,616.76 L335.35,613.57 L333.29,610.34 L331.21,607.08 L329.11,603.79 L327.00,600.46 L324.87,597.10 L322.73,593.71 L320.57,590.28 L318.39,586.81 L316.19,583.31 L313.98,579.77 L311.75,576.19 L309.51,572.57 L307.25,568.91 L304.97,565.20 L302.67,561.46 L300.36,557.67 L298.03,553.84 L295.69,549.96 L293.33,546.04 L290.95,542.07 L288.55,538.05 L286.14,533.98 L283.71,529.86 L281.27,525.68 L278.81,521.45 L276.33,517.17 L273.83,512.83 L271.32,508.43 L268.79,503.98 L266.24,499.46 L263.67,494.87 L261.09,490.23 L258.49,485.51 L255.87,480.73 L253.23,475.87 L250.58,470.95 L247.91,465.94 L245.22,460.86 L242.51,455.70 L239.78,450.46 L237.04,445.13 L234.27,439.71 L231.49,434.21 L228.68,428.60 L225.86,422.90 L223.02,417.10 L220.16,411.20 L217.27,405.19 L214.37,399.06 L211.45,392.82 L208.50,386.45 L205.54,379.96 L202.55,373.34 L199.54,366.58 L196.51,359.68 L193.46,352.63 L190.38,345.43 L187.29,338.06 L184.17,330.52 L181.02,322.81 L177.86,314.91 L174.67,306.81 L171.45,298.51 L168.22,290.00 L164.96,281.25 L161.67,272.27 L158.36,263.03 L155.03,253.53 L151.68,243.74 L148.30,233.65 L144.90,223.23 L141.47,212.48 L138.03,201.36 L134.56,189.85 L131.08,177.92 L127.57,165.54 L124.05,152.67 L120.52,139.27 L116.97,125.31 L113.42,110.72 L109.86,95.45" class="ma"/>
<path d="M506.37,865.33 L505.89,863.84 L505.41,862.34 L504.93,860.83 L504.44,859.32 L503.95,857.80 L503.45,856.27 L502.94,854.74 L502.43,853.20 L501.91,851.65 L501.39,850.09 L500.86,848.53 L500.33,846.96 L499.79,845.38 L499.25,843.80 L498.69,842.20 L498.13,840.60 L497.57,838.99 L497.00,837.37 L496.42,835.75 L495.84,834.12 L495.25,832.47 L494.65,830.82 L494.04,829.17 L493.43,827.50 L492.81,825.82 L492.18,824.14 L491.55,822.45 L490.91,820.75 L490.26,819.04 L489.60,817.32 L488.94,815.59 L488.26,813.85 L487.58,812.10 L486.89,810.35 L486.19,808.58 L485.49,806.81 L484.77,805.02 L484.04,803.23 L483.31,801.42 L482.57,799.61 L481.81,797.79 L481.05,795.95 L480.28,794.11 L479.50,792.25 L478.71,790.38 L477.91,788.51 L477.09,786.62 L476.27,784.72 L475.44,782.81 L474.59,780.89 L473.74,778.96 L472.87,777.01 L472.00,775.06 L471.11,773.09 L470.21,771.11 L469.29,769.12 L468.37,767.12 L467.43,765.10 L466.48,763.07 L465.52,761.03 L464.54,758.98 L463.56,756.91 L462.55,754.83 L461.54,752.74 L460.51,750.63 L459.47,748.52 L458.41,746.38 L457.34,744.23 L456.26,742.07 L455.16,739.90 L454.04,737.70 L452.91,735.50 L451.76,733.28 L450.60,731.04 L449.43,728.79 L448.23,726.52 L447.02,724.24 L445.80,721.94 L444.56,719.63 L443.30,717.30 L442.02,714.95 L440.73,712.58 L439.42,710.20 L438.09,707.80 L436.74,705.39 L435.38,702.95 L434.00,700.50 L432.59,698.02 L431.17,695.53 L429.73,693.02 L428.28,690.49 L426.80,687.95 L425.30,685.38 L423.79,682.79 L422.25,680.18 L420.69,677.55 L419.12,674.89 L417.52,672.22 L415.90,669.52 L414.26,666.81 L412.61,664.06 L410.93,661.30 L409.23,658.51 L407.50,655.70 L405.76,652.86 L404.00,650.00 L402.21,647.12 L400.40,644.21 L398.57,641.27 L396.72,638.30 L394.85,635.31 L392.95,632.29 L391.04,629.25 L389.10,626.17 L387.14,623.06 L385.15,619.93 L383.15,616.76 L381.12,613.57 L379.07,610.34 L377.00,607.08 L374.91,603.79 L372.79,600.46 L370.65,597.10 L368.49,593.71 L366.31,590.28 L364.10,586.81 L361.88,583.31 L359.63,579.77 L357.36,576.19 L355.06,572.57 L352.75,568.91 L350.41,565.20 L348.05,561.46 L345.67,557.67 L343.27,553.84 L340.84,549.96 L338.40,546.04 L335.93,542.07 L333.44,538.05 L330.93,533.98 L328.39,529.86 L325.84,525.68 L323.26,521.45 L320.67,517.17 L318.05,512.83 L315.41,508.43 L312.74,503.98 L310.06,499.46 L307.35,494.87 L304.63,490.23 L301.88,485.51 L299.11,480.73 L296.31,475.87 L293.50,470.95 L290.66,465.94 L287.80,460.86 L284.92,455.70 L282.02,450.46 L279.09,445.13 L276.14,439.71 L273.17,434.21 L270.18,428.60 L267.16,422.90 L264.12,417.10 L261.05,411.20 L257.96,405.19 L254.85,399.06 L251.71,392.82 L248.55,386.45 L245.36,379.96 L242.15,373.34 L238.91,366.58 L235.65,359.68 L232.36,352.63 L229.05,345.43 L225.70,338.06 L222.33,330.52 L218.93,322.81 L215.51,314.91 L212.06,306.81 L208.57,298.51 L205.06,290.00 L201.52,281.25 L197.95,272.27 L194.36,263.03 L190.73,253.53 L187.07,243.74 L183.38,233.65 L179.66,223.23 L175.91,212.48 L172.13,201.36 L168.33,189.85 L164.49,177.92 L160.63,165.54 L156.74,152.67 L152.82,139.27 L148.89,125.31 L144.93,110.72 L140.95,95.45" class="ma"/>
<path d="M536.58,865.33 L536.22,863.84 L535.85,862.34 L535.48,860.83 L535.11,859.32 L534.73,857.80 L534.35,856.27 L533.96,854.74 L533.57,853.20 L533.17,851.65 L532.77,850.09 L532.37,848.53 L531.96,846.96 L531.55,845.38 L531.13,843.80 L530.70,842.20 L530.28,840.60 L529.84,838.99 L529.40,837.37 L528.96,835.75 L528.51,834.12 L528.06,832.47 L527.60,830.82 L527.13,829.17 L526.66,827.50 L526.18,825.82 L525.70,824.14 L525.21,822.45 L524.71,820.75 L524.21,819.04 L523.71,817.32 L523.19,815.59 L522.67,813.85 L522.14,812.10 L521.61,810.35 L521.07,808.58 L520.52,806.81 L519.97,805.02 L519.40,803.23 L518.83,801.42 L518.26,799.61 L517.67,797.79 L517.08,795.95 L516.48,794.11 L515.87,792.25 L515.25,790.38 L514.62,788.51 L513.99,786.62 L513.35,784.72 L512.69,782.81 L512.03,780.89 L511.36,778.96 L510.68,777.01 L509.99,775.06 L509.29,773.09 L508.58,771.11 L507.86,769.12 L507.13,767.12 L506.39,765.10 L505.64,763.07 L504.87,761.03 L504.10,758.98 L503.31,756.91 L502.52,754.83 L501.71,752.74 L500.88,750.63 L500.05,748.52 L499.20,746.38 L498.34,744.23 L497.47,742.07 L496.58,739.90 L495.68,737.70 L494.77,735.50 L493.84,733.28 L492.90,731.04 L491.94,728.79 L490.97,726.52 L489.98,724.24 L488.98,721.94 L487.96,719.63 L486.92,717.30 L485.87,714.95 L484.80,712.58 L483.72,710.20 L482.61,707.80 L481.49,705.39 L480.35,702.95 L479.20,700.50 L478.02,698.02 L476.83,695.53 L475.61,693.02 L474.38,690.49 L473.12,687.95 L471.85,685.38 L470.55,682.79 L469.23,680.18 L467.89,677.55 L466.53,674.89 L465.15,672.22 L463.74,669.52 L462.32,666.81 L460.86,664.06 L459.39,661.30 L457.89,658.51 L456.37,655.70 L454.82,652.86 L453.25,650.00 L451.65,647.12 L450.02,644.21 L448.38,641.27 L446.70,638.30 L445.00,635.31 L443.27,632.29 L441.51,629.25 L439.73,626.17 L437.92,623.06 L436.08,619.93 L434.21,616.76 L432.31,613.57 L430.39,610.34 L428.44,607.08 L426.45,603.79 L424.44,600.46 L422.40,597.10 L420.33,593.71 L418.23,590.28 L416.10,586.81 L413.94,583.31 L411.75,579.77 L409.53,576.19 L407.28,572.57 L405.00,568.91 L402.69,565.20 L400.34,561.46 L397.97,557.67 L395.57,553.84 L393.14,549.96 L390.68,546.04 L388.18,542.07 L385.66,538.05 L383.11,533.98 L380.52,529.86 L377.91,525.68 L375.27,521.45 L372.59,517.17 L369.89,512.83 L367.16,508.43 L364.39,503.98 L361.60,499.46 L358.78,494.87 L355.93,490.23 L353.05,485.51 L350.14,480.73 L347.20,475.87 L344.23,470.95 L341.24,465.94 L338.21,460.86 L335.15,455.70 L332.07,450.46 L328.96,445.13 L325.81,439.71 L322.64,434.21 L319.44,428.60 L316.21,422.90 L312.95,417.10 L309.66,411.20 L306.34,405.19 L302.99,399.06 L299.61,392.82 L296.20,386.45 L292.76,379.96 L289.29,373.34 L285.79,366.58 L282.26,359.68 L278.69,352.63 L275.09,345.43 L271.46,338.06 L267.80,330.52 L264.10,322.81 L260.37,314.91 L256.61,306.81 L252.81,298.51 L248.97,290.00 L245.10,281.25 L241.19,272.27 L237.25,263.03 L233.27,253.53 L229.25,243.74 L225.19,233.65 L221.09,223.23 L216.96,212.48 L212.78,201.36 L208.57,189.85 L204.32,177.92 L200.03,165.54 L195.70,152.67 L191.33,139.27 L186.93,125.31 L182.49,110.72 L178.02,95.45" class="ma"/>
<path d="M566.87,865.33 L566.62,863.84 L566.35,862.34 L566.09,860.83 L565.82,859.32 L565.55,857.80 L565.28,856.27 L565.01,854.74 L564.73,853.20 L564.44,851.65 L564.16,850.09 L563.87,848.53 L563.58,846.96 L563.28,845.38 L562.98,843.80 L562.68,842.20 L562.38,840.60 L562.07,838.99 L561.75,837.37 L561.44,835.75 L561.12,834.12 L560.79,832.47 L560.46,830.82 L560.13,829.17 L559.79,827.50 L559.45,825.82 L559.11,824.14 L558.76,822.45 L558.40,820.75 L558.04,819.04 L557.68,817.32 L557.31,815.59 L556.94,813.85 L556.56,812.10 L556.18,810.35 L555.79,808.58 L555.40,806.81 L555.00,805.02 L554.59,803.23 L554.19,801.42 L553.77,799.61 L553.35,797.79 L552.92,795.95 L552.49,794.11 L552.05,792.25 L551.61,790.38 L551.16,788.51 L550.70,786.62 L550.24,784.72 L549.76,782.81 L549.29,780.89 L548.80,778.96 L548.31,777.01 L547.81,775.06 L547.30,773.09 L546.79,771.11 L546.27,769.12 L545.74,767.12 L545.20,765.10 L544.65,763.07 L544.10,761.03 L543.53,758.98 L542.96,756.91 L542.38,754.83 L541.79,752.74 L541.19,750.63 L540.58,748.52 L539.96,746.38 L539.33,744.23 L538.69,742.07 L538.04,739.90 L537.37,737.70 L536.70,735.50 L536.02,733.28 L535.32,731.04 L534.61,728.79 L533.89,726.52 L533.16,724.24 L532.41,721.94 L531.66,719.63 L530.88,717.30 L530.10,714.95 L529.30,712.58 L528.49,710.20 L527.66,707.80 L526.82,705.39 L525.96,702.95 L525.08,700.50 L524.19,698.02 L523.28,695.53 L522.36,693.02 L521.42,690.49 L520.46,687.95 L519.48,685.38 L518.49,682.79 L517.47,680.18 L516.44,677.55 L515.39,674.89 L514.31,672.22 L513.22,669.52 L512.10,666.81 L510.96,664.06 L509.80,661.30 L508.62,658.51 L507.41,655.70 L506.18,652.86 L504.93,650.00 L503.65,647.12 L502.34,644.21 L501.01,641.27 L499.65,638.30 L498.26,635.31 L496.85,632.29 L495.41,629.25 L493.94,626.17 L492.43,623.06 L490.90,619.93 L489.34,616.76 L487.74,613.57 L486.12,610.34 L484.46,607.08 L482.76,603.79 L481.04,600.46 L479.27,597.10 L477.48,593.71 L475.64,590.28 L473.77,586.81 L471.87,583.31 L469.92,579.77 L467.94,576.19 L465.92,572.57 L463.86,568.91 L461.76,565.20 L459.62,561.46 L457.43,557.67 L455.21,553.84 L452.95,549.96 L450.64,546.04 L448.30,542.07 L445.91,538.05 L443.47,533.98 L441.00,529.86 L438.48,525.68 L435.92,521.45 L433.31,517.17 L430.66,512.83 L427.97,508.43 L425.23,503.98 L422.45,499.46 L419.63,494.87 L416.76,490.23 L413.85,485.51 L410.89,480.73 L407.90,475.87 L404.85,470.95 L401.77,465.94 L398.64,460.86 L395.47,455.70 L392.26,450.46 L389.00,445.13 L385.70,439.71 L382.36,434.21 L378.98,428.60 L375.56,422.90 L372.09,417.10 L368.59,411.20 L365.04,405.19 L361.45,399.06 L357.82,392.82 L354.15,386.45 L350.43,379.96 L346.68,373.34 L342.88,366.58 L339.05,359.68 L335.17,352.63 L331.25,345.43 L327.28,338.06 L323.28,330.52 L319.23,322.81 L315.14,314.91 L311.01,306.81 L306.83,298.51 L302.60,290.00 L298.33,281.25 L294.02,272.27 L289.66,263.03 L285.25,253.53 L280.79,243.74 L276.29,233.65 L271.73,223.23 L267.13,212.48 L262.47,201.36 L257.76,189.85 L253.00,177.92 L248.19,165.54 L243.32,152.67 L238.40,139.27 L233.43,125.31 L228.40,110.72 L223.32,95.45" class="ma"/>
<path d="M597.29,865.33 L597.12,863.84 L596.95,862.34 L596.79,860.83 L596.61,859.32 L596.44,857.80 L596.27,856.27 L596.09,854.74 L595.91,853.20 L595.73,851.65 L595.55,850.09 L595.37,848.53 L595.18,846.96 L594.99,845.38 L594.80,843.80 L594.60,842.20 L594.41,840.60 L594.21,838.99 L594.01,837.37 L593.81,835.75 L593.60,834.12 L593.39,832.47 L593.18,830.82 L592.97,829.17 L592.75,827.50 L592.53,825.82 L592.31,824.14 L592.09,822.45 L591.86,820.75 L591.63,819.04 L591.40,817.32 L591.16,815.59 L590.92,813.85 L590.68,812.10 L590.43,810.35 L590.18,808.58 L589.93,806.81 L589.67,805.02 L589.41,803.23 L589.15,801.42 L588.88,799.61 L588.61,797.79 L588.34,795.95 L588.06,794.11 L587.77,792.25 L587.49,790.38 L587.20,788.51 L586.90,786.62 L586.60,784.72 L586.30,782.81 L585.99,780.89 L585.67,778.96 L585.36,777.01 L585.03,775.06 L584.70,773.09 L584.37,771.11 L584.03,769.12 L583.69,767.12 L583.34,765.10 L582.98,763.07 L582.62,761.03 L582.26,758.98 L581.88,756.91 L581.50,754.83 L581.12,752.74 L580.73,750.63 L580.33,748.52 L579.93,746.38 L579.51,744.23 L579.10,742.07 L578.67,739.90 L578.24,737.70 L577.79,735.50 L577.35,733.28 L576.89,731.04 L576.42,728.79 L575.95,726.52 L575.47,724.24 L574.98,721.94 L574.48,719.63 L573.97,717.30 L573.45,714.95 L572.92,712.58 L572.38,710.20 L571.83,707.80 L571.27,705.39 L570.70,702.95 L570.12,700.50 L569.52,698.02 L568.92,695.53 L568.30,693.02 L567.67,690.49 L567.03,687.95 L566.37,685.38 L565.70,682.79 L565.02,680.18 L564.32,677.55 L563.60,674.89 L562.87,672.22 L562.13,669.52 L561.37,666.81 L560.59,664.06 L559.80,661.30 L558.99,658.51 L558.16,655.70 L557.31,652.86 L556.44,650.00 L555.56,647.12 L554.65,644.21 L553.72,641.27 L552.77,638.30 L551.80,635.31 L550.80,632.29 L549.78,629.25 L548.74,626.17 L547.67,623.06 L546.58,619.93 L545.45,616.76 L544.31,613.57 L543.13,610.34 L541.92,607.08 L540.69,603.79 L539.42,600.46 L538.12,597.10 L536.79,593.71 L535.42,590.28 L534.02,586.81 L532.58,583.31 L531.11,579.77 L529.60,576.19 L528.05,572.57 L526.46,568.91 L524.82,565.20 L523.15,561.46 L521.43,557.67 L519.66,553.84 L517.85,549.96 L516.00,546.04 L514.09,542.07 L512.13,538.05 L510.12,533.98 L508.07,529.86 L505.95,525.68 L503.78,521.45 L501.56,517.17 L499.28,512.83 L496.94,508.43 L494.54,503.98 L492.08,499.46 L489.56,494.87 L486.98,490.23 L484.34,485.51 L481.63,480.73 L478.86,475.87 L476.02,470.95 L473.11,465.94 L470.14,460.86 L467.10,455.70 L464.00,450.46 L460.83,445.13 L457.59,439.71 L454.28,434.21 L450.90,428.60 L447.46,422.90 L443.95,417.10 L440.37,411.20 L436.73,405.19 L433.02,399.06 L429.24,392.82 L425.39,386.45 L421.49,379.96 L417.51,373.34 L413.47,366.58 L409.37,359.68 L405.20,352.63 L400.97,345.43 L396.68,338.06 L392.32,330.52 L387.90,322.81 L383.42,314.91 L378.88,306.81 L374.27,298.51 L369.60,290.00 L364.87,281.25 L360.08,272.27 L355.22,263.03 L350.30,253.53 L345.32,243.74 L340.27,233.65 L335.15,223.23 L329.96,212.48 L324.71,201.36 L319.39,189.85 L314.00,177.92 L308.54,165.54 L303.00,152.67 L297.39,139.27 L291.70,125.31 L285.94,110.72 L280.10,95.45" class="ma"/>
<path d="M627.84,865.33 L627.76,863.84 L627.67,862.34 L627.58,860.83 L627.50,859.32 L627.41,857.80 L627.32,856.27 L627.23,854.74 L627.13,853.20 L627.04,851.65 L626.95,850.09 L626.85,848.53 L626.76,846.96 L626.66,845.38 L626.56,843.80 L626.46,842.20 L626.36,840.60 L626.26,838.99 L626.15,837.37 L626.05,835.75 L625.94,834.12 L625.83,832.47 L625.72,830.82 L625.61,829.17 L625.50,827.50 L625.38,825.82 L625.27,824.14 L625.15,822.45 L625.03,820.75 L624.91,819.04 L624.79,817.32 L624.67,815.59 L624.54,813.85 L624.41,812.10 L624.28,810.35 L624.15,808.58 L624.02,806.81 L623.88,805.02 L623.75,803.23 L623.61,801.42 L623.47,799.61 L623.32,797.79 L623.18,795.95 L623.03,794.11 L622.88,792.25 L622.73,790.38 L622.57,788.51 L622.42,786.62 L622.26,784.72 L622.10,782.81 L621.93,780.89 L621.76,778.96 L621.59,777.01 L621.42,775.06 L621.24,773.09 L621.07,771.11 L620.88,769.12 L620.70,767.12 L620.51,765.10 L620.32,763.07 L620.13,761.03 L619.93,758.98 L619.73,756.91 L619.52,754.83 L619.31,752.74 L619.10,750.63 L618.89,748.52 L618.67,746.38 L618.44,744.23 L618.21,742.07 L617.98,739.90 L617.75,737.70 L617.50,735.50 L617.26,733.28 L617.01,731.04 L616.75,728.79 L616.49,726.52 L616.23,724.24 L615.96,721.94 L615.68,719.63 L615.40,717.30 L615.12,714.95 L614.82,712.58 L614.52,710.20 L614.22,707.80 L613.91,705.39 L613.59,702.95 L613.27,700.50 L612.94,698.02 L612.60,695.53 L612.25,693.02 L611.90,690.49 L611.54,687.95 L611.17,685.38 L610.79,682.79 L610.41,680.18 L610.01,677.55 L609.61,674.89 L609.20,672.22 L608.77,669.52 L608.34,666.81 L607.90,664.06 L607.45,661.30 L606.98,658.51 L606.51,655.70 L606.02,652.86 L605.52,650.00 L605.01,647.12 L604.49,644.21 L603.95,641.27 L603.40,638.30 L602.83,635.31 L602.25,632.29 L601.66,629.25 L601.05,626.17 L600.42,623.06 L599.78,619.93 L599.12,616.76 L598.44,613.57 L597.74,610.34 L597.02,607.08 L596.28,603.79 L595.52,600.46 L594.74,597.10 L593.94,593.71 L593.11,590.28 L592.26,586.81 L591.38,583.31 L590.48,579.77 L589.55,576.19 L588.59,572.57 L587.60,568.91 L586.58,565.20 L585.53,561.46 L584.45,557.67 L583.33,553.84 L582.17,549.96 L580.98,546.04 L579.75,542.07 L578.48,538.05 L577.16,533.98 L575.80,529.86 L574.40,525.68 L572.95,521.45 L571.44,517.17 L569.89,512.83 L568.28,508.43 L566.62,503.98 L564.90,499.46 L563.11,494.87 L561.27,490.23 L559.36,485.51 L557.38,480.73 L555.33,475.87 L553.20,470.95 L551.01,465.94 L548.73,460.86 L546.37,455.70 L543.92,450.46 L541.39,445.13 L538.77,439.71 L536.06,434.21 L533.25,428.60 L530.34,422.90 L527.33,417.10 L524.22,411.20 L521.01,405.19 L517.69,399.06 L514.26,392.82 L510.72,386.45 L507.06,379.96 L503.30,373.34 L499.42,366.58 L495.42,359.68 L491.31,352.63 L487.09,345.43 L482.75,338.06 L478.30,330.52 L473.73,322.81 L469.05,314.91 L464.26,306.81 L459.36,298.51 L454.34,290.00 L449.22,281.25 L443.99,272.27 L438.66,263.03 L433.22,253.53 L427.67,243.74 L422.03,233.65 L416.28,223.23 L410.43,212.48 L404.47,201.36 L398.41,189.85 L392.25,177.92 L385.99,165.54 L379.62,152.67 L373.14,139.27 L366.56,125.31 L359.86,110.72 L353.05,95.45" class="ma"/>
<path d="M658.54,865.33 L658.52,863.84 L658.51,862.34 L658.49,860.83 L658.47,859.32 L658.45,857.80 L658.43,856.27 L658.41,854.74 L658.39,853.20 L658.37,851.65 L658.35,850.09 L658.33,848.53 L658.31,846.96 L658.29,845.38 L658.27,843.80 L658.24,842.20 L658.22,840.60 L658.20,838.99 L658.17,837.37 L658.15,835.75 L658.12,834.12 L658.10,832.47 L658.07,830.82 L658.05,829.17 L658.02,827.50 L657.99,825.82 L657.96,824.14 L657.93,822.45 L657.90,820.75 L657.87,819.04 L657.84,817.32 L657.81,815.59 L657.78,813.85 L657.75,812.10 L657.71,810.35 L657.68,808.58 L657.64,806.81 L657.61,805.02 L657.57,803.23 L657.53,801.42 L657.49,799.61 L657.46,797.79 L657.42,795.95 L657.38,794.11 L657.33,792.25 L657.29,790.38 L657.25,788.51 L657.20,786.62 L657.16,784.72 L657.11,782.81 L657.06,780.89 L657.01,778.96 L656.96,777.01 L656.91,775.06 L656.86,773.09 L656.81,771.11 L656.75,769.12 L656.70,767.12 L656.64,765.10 L656.58,763.07 L656.52,761.03 L656.46,758.98 L656.39,756.91 L656.33,754.83 L656.26,752.74 L656.19,750.63 L656.12,748.52 L656.05,746.38 L655.98,744.23 L655.91,742.07 L655.83,739.90 L655.75,737.70 L655.67,735.50 L655.59,733.28 L655.50,731.04 L655.41,728.79 L655.32,726.52 L655.23,724.24 L655.14,721.94 L655.04,719.63 L654.94,717.30 L654.84,714.95 L654.74,712.58 L654.63,710.20 L654.52,707.80 L654.41,705.39 L654.29,702.95 L654.18,700.50 L654.05,698.02 L653.93,695.53 L653.80,693.02 L653.67,690.49 L653.53,687.95 L653.39,685.38 L653.25,682.79 L653.10,680.18 L652.95,677.55 L652.79,674.89 L652.63,672.22 L652.47,669.52 L652.30,666.81 L652.12,664.06 L651.94,661.30 L651.76,658.51 L651.57,655.70 L651.37,652.86 L651.17,650.00 L650.96,647.12 L650.75,644.21 L650.53,641.27 L650.30,638.30 L650.07,635.31 L649.82,632.29 L649.57,629.25 L649.32,626.17 L649.05,623.06 L648.78,619.93 L648.49,616.76 L648.20,613.57 L647.90,610.34 L647.59,607.08 L647.27,603.79 L646.94,600.46 L646.59,597.10 L646.24,593.71 L645.87,590.28 L645.49,586.81 L645.10,583.31 L644.69,579.77 L644.27,576.19 L643.83,572.57 L643.38,568.91 L642.91,565.20 L642.42,561.46 L641.92,557.67 L641.40,553.84 L640.86,549.96 L640.29,546.04 L639.71,542.07 L639.10,538.05 L638.47,533.98 L637.81,529.86 L637.13,525.68 L636.42,521.45 L635.68,517.17 L634.92,512.83 L634.11,508.43 L633.28,503.98 L632.41,499.46 L631.50,494.87 L630.56,490.23 L629.57,485.51 L628.54,480.73 L627.46,475.87 L626.33,470.95 L625.15,465.94 L623.92,460.86 L622.63,455.70 L621.27,450.46 L619.86,445.13 L618.37,439.71 L616.81,434.21 L615.18,428.60 L613.46,422.90 L611.66,417.10 L609.77,411.20 L607.77,405.19 L605.68,399.06 L603.48,392.82 L601.16,386.45 L598.73,379.96 L596.16,373.34 L593.46,366.58 L590.62,359.68 L587.62,352.63 L584.47,345.43 L581.15,338.06 L577.66,330.52 L574.00,322.81 L570.14,314.91 L566.09,306.81 L561.84,298.51 L557.38,290.00 L552.71,281.25 L547.83,272.27 L542.73,263.03 L537.41,253.53 L531.87,243.74 L526.11,233.65 L520.14,223.23 L513.94,212.48 L507.54,201.36 L500.92,189.85 L494.10,177.92 L487.08,165.54 L479.85,152.67 L472.44,139.27 L464.83,125.31 L457.03,110.72 L449.05,95.45" class="ma"/>
<path d="M689.39,865.33 L689.42,863.84 L689.46,862.34 L689.50,860.83 L689.53,859.32 L689.57,857.80 L689.61,856.27 L689.65,854.74 L689.69,853.20 L689.73,851.65 L689.76,850.09 L689.80,848.53 L689.84,846.96 L689.88,845.38 L689.92,843.80 L689.96,842.20 L690.00,840.60 L690.04,838.99 L690.08,837.37 L690.12,835.75 L690.16,834.12 L690.20,832.47 L690.24,830.82 L690.28,829.17 L690.32,827.50 L690.36,825.82 L690.41,824.14 L690.45,822.45 L690.49,820.75 L690.53,819.04 L690.57,817.32 L690.61,815.59 L690.66,813.85 L690.70,812.10 L690.74,810.35 L690.78,808.58 L690.82,806.81 L690.87,805.02 L690.91,803.23 L690.95,801.42 L690.99,799.61 L691.04,797.79 L691.08,795.95 L691.12,794.11 L691.17,792.25 L691.21,790.38 L691.25,788.51 L691.30,786.62 L691.34,784.72 L691.38,782.81 L691.43,780.89 L691.47,778.96 L691.51,777.01 L691.56,775.06 L691.60,773.09 L691.64,771.11 L691.69,769.12 L691.73,767.12 L691.77,765.10 L691.82,763.07 L691.86,761.03 L691.90,758.98 L691.95,756.91 L691.99,754.83 L692.03,752.74 L692.08,750.63 L692.12,748.52 L692.16,746.38 L692.20,744.23 L692.24,742.07 L692.29,739.90 L692.33,737.70 L692.37,735.50 L692.41,733.28 L692.45,731.04 L692.49,728.79 L692.53,726.52 L692.57,724.24 L692.61,721.94 L692.65,719.63 L692.69,717.30 L692.73,714.95 L692.77,712.58 L692.81,710.20 L692.84,707.80 L692.88,705.39 L692.92,702.95 L692.95,700.50 L692.99,698.02 L693.02,695.53 L693.06,693.02 L693.09,690.49 L693.12,687.95 L693.15,685.38 L693.18,682.79 L693.21,680.18 L693.24,677.55 L693.27,674.89 L693.29,672.22 L693.32,669.52 L693.34,666.81 L693.37,664.06 L693.39,661.30 L693.41,658.51 L693.43,655.70 L693.44,652.86 L693.46,650.00 L693.47,647.12 L693.49,644.21 L693.50,641.27 L693.51,638.30 L693.51,635.31 L693.52,632.29 L693.52,629.25 L693.52,626.17 L693.52,623.06 L693.51,619.93 L693.50,616.76 L693.49,613.57 L693.48,610.34 L693.46,607.08 L693.44,603.79 L693.42,600.46 L693.39,597.10 L693.36,593.71 L693.33,590.28 L693.29,586.81 L693.24,583.31 L693.20,579.77 L693.14,576.19 L693.08,572.57 L693.02,568.91 L692.95,565.20 L692.88,561.46 L692.79,557.67 L692.70,553.84 L692.61,549.96 L692.50,546.04 L692.39,542.07 L692.27,538.05 L692.14,533.98 L692.01,529.86 L691.86,525.68 L691.70,521.45 L691.53,517.17 L691.35,512.83 L691.15,508.43 L690.95,503.98 L690.73,499.46 L690.49,494.87 L690.24,490.23 L689.97,485.51 L689.68,480.73 L689.38,475.87 L689.05,470.95 L688.71,465.94 L688.34,460.86 L687.94,455.70 L687.52,450.46 L687.07,445.13 L686.59,439.71 L686.08,434.21 L685.54,428.60 L684.96,422.90 L684.33,417.10 L683.67,411.20 L682.96,405.19 L682.20,399.06 L681.38,392.82 L680.51,386.45 L679.58,379.96 L678.57,373.34 L677.50,366.58 L676.35,359.68 L675.11,352.63 L673.77,345.43 L672.34,338.06 L670.79,330.52 L669.12,322.81 L667.32,314.91 L665.37,306.81 L663.27,298.51 L660.99,290.00 L658.53,281.25 L655.86,272.27 L652.96,263.03 L649.81,253.53 L646.40,243.74 L642.69,233.65 L638.66,223.23 L634.28,212.48 L629.54,201.36 L624.40,189.85 L618.83,177.92 L612.83,165.54 L606.35,152.67 L599.40,139.27 L591.96,125.31 L584.02,110.72 L575.60,95.45" class="ma"/>
<path d="M720.36,865.33 L720.44,863.84 L720.52,862.34 L720.60,860.83 L720.68,859.32 L720.76,857.80 L720.85,856.27 L720.93,854.74 L721.01,853.20 L721.10,851.65 L721.18,850.09 L721.27,848.53 L721.35,846.96 L721.44,845.38 L721.53,843.80 L721.62,842.20 L721.71,840.60 L721.79,838.99 L721.88,837.37 L721.97,835.75 L722.07,834.12 L722.16,832.47 L722.25,830.82 L722.34,829.17 L722.44,827.50 L722.53,825.82 L722.63,824.14 L722.72,822.45 L722.82,820.75 L722.91,819.04 L723.01,817.32 L723.11,815.59 L723.21,813.85 L723.31,812.10 L723.41,810.35 L723.51,808.58 L723.61,806.81 L723.71,805.02 L723.82,803.23 L723.92,801.42 L724.03,799.61 L724.13,797.79 L724.24,795.95 L724.34,794.11 L724.45,792.25 L724.56,790.38 L724.67,788.51 L724.78,786.62 L724.89,784.72 L725.00,782.81 L725.11,780.89 L725.23,778.96 L725.34,777.01 L725.46,775.06 L725.57,773.09 L725.69,771.11 L725.81,769.12 L725.92,767.12 L726.04,765.10 L726.16,763.07 L726.28,761.03 L726.41,758.98 L726.53,756.91 L726.65,754.83 L726.78,752.74 L726.90,750.63 L727.03,748.52 L727.15,746.38 L727.28,744.23 L727.41,742.07 L727.54,739.90 L727.67,737.70 L727.80,735.50 L727.94,733.28 L728.07,731.04 L728.20,728.79 L728.34,726.52 L728.48,724.24 L728.62,721.94 L728.75,719.63 L728.89,717.30 L729.03,714.95 L729.18,712.58 L729.32,710.20 L729.46,707.80 L729.61,705.39 L729.75,702.95 L729.90,700.50 L730.05,698.02 L730.20,695.53 L730.35,693.02 L730.50,690.49 L730.65,687.95 L730.81,685.38 L730.96,682.79 L731.12,680.18 L731.28,677.55 L731.44,674.89 L731.59,672.22 L731.76,669.52 L731.92,666.81 L732.08,664.06 L732.24,661.30 L732.41,658.51 L732.57,655.70 L732.74,652.86 L732.91,650.00 L733.08,647.12 L733.25,644.21 L733.42,641.27 L733.60,638.30 L733.77,635.31 L733.95,632.29 L734.12,629.25 L734.30,626.17 L734.48,623.06 L734.66,619.93 L734.84,616.76 L735.02,613.57 L735.21,610.34 L735.39,607.08 L735.58,603.79 L735.77,600.46 L735.95,597.10 L736.14,593.71 L736.33,590.28 L736.52,586.81 L736.72,583.31 L736.91,579.77 L737.10,576.19 L737.30,572.57 L737.49,568.91 L737.69,565.20 L737.88,561.46 L738.08,557.67 L738.27,553.84 L738.47,549.96 L738.67,546.04 L738.87,542.07 L739.07,538.05 L739.27,533.98 L739.47,529.86 L739.66,525.68 L739.86,521.45 L740.06,517.17 L740.26,512.83 L740.46,508.43 L740.65,503.98 L740.85,499.46 L741.04,494.87 L741.23,490.23 L741.43,485.51 L741.61,480.73 L741.80,475.87 L741.99,470.95 L742.17,465.94 L742.34,460.86 L742.52,455.70 L742.69,450.46 L742.85,445.13 L743.01,439.71 L743.17,434.21 L743.31,428.60 L743.45,422.90 L743.58,417.10 L743.71,411.20 L743.82,405.19 L743.92,399.06 L744.01,392.82 L744.08,386.45 L744.15,379.96 L744.19,373.34 L744.21,366.58 L744.22,359.68 L744.20,352.63 L744.16,345.43 L744.08,338.06 L743.98,330.52 L743.84,322.81 L743.66,314.91 L743.44,306.81 L743.16,298.51 L742.83,290.00 L742.44,281.25 L741.98,272.27 L741.44,263.03 L740.81,253.53 L740.08,243.74 L739.23,233.65 L738.24,223.23 L737.11,212.48 L735.80,201.36 L734.29,189.85 L732.55,177.92 L730.54,165.54 L728.22,152.67 L725.54,139.27 L722.43,125.31 L718.82,110.72 L714.63,95.45" class="ma"/>
<path d="M751.44,865.33 L751.55,863.84 L751.67,862.34 L751.78,860.83 L751.90,859.32 L752.01,857.80 L752.13,856.27 L752.25,854.74 L752.37,853.20 L752.49,851.65 L752.61,850.09 L752.73,848.53 L752.85,846.96 L752.97,845.38 L753.10,843.80 L753.22,842.20 L753.35,840.60 L753.47,838.99 L753.60,837.37 L753.73,835.75 L753.86,834.12 L753.99,832.47 L754.12,830.82 L754.25,829.17 L754.38,827.50 L754.52,825.82 L754.65,824.14 L754.79,822.45 L754.93,820.75 L755.06,819.04 L755.20,817.32 L755.34,815.59 L755.48,813.85 L755.63,812.10 L755.77,810.35 L755.92,808.58 L756.06,806.81 L756.21,805.02 L756.36,803.23 L756.51,801.42 L756.66,799.61 L756.81,797.79 L756.96,795.95 L757.12,794.11 L757.27,792.25 L757.43,790.38 L757.59,788.51 L757.74,786.62 L757.91,784.72 L758.07,782.81 L758.23,780.89 L758.39,778.96 L758.56,777.01 L758.73,775.06 L758.90,773.09 L759.07,771.11 L759.24,769.12 L759.41,767.12 L759.58,765.10 L759.76,763.07 L759.94,761.03 L760.12,758.98 L760.30,756.91 L760.48,754.83 L760.66,752.74 L760.85,750.63 L761.03,748.52 L761.22,746.38 L761.41,744.23 L761.60,742.07 L761.80,739.90 L761.99,737.70 L762.19,735.50 L762.39,733.28 L762.59,731.04 L762.79,728.79 L762.99,726.52 L763.20,724.24 L763.41,721.94 L763.62,719.63 L763.83,717.30 L764.04,714.95 L764.26,712.58 L764.48,710.20 L764.70,707.80 L764.92,705.39 L765.14,702.95 L765.37,700.50 L765.60,698.02 L765.83,695.53 L766.06,693.02 L766.29,690.49 L766.53,687.95 L766.77,685.38 L767.01,682.79 L767.26,680.18 L767.50,677.55 L767.75,674.89 L768.00,672.22 L768.26,669.52 L768.52,666.81 L768.77,664.06 L769.04,661.30 L769.30,658.51 L769.57,655.70 L769.84,652.86 L770.11,650.00 L770.39,647.12 L770.67,644.21 L770.95,641.27 L771.24,638.30 L771.53,635.31 L771.82,632.29 L772.11,629.25 L772.41,626.17 L772.71,623.06 L773.02,619.93 L773.32,616.76 L773.64,613.57 L773.95,610.34 L774.27,607.08 L774.59,603.79 L774.92,600.46 L775.25,597.10 L775.58,593.71 L775.92,590.28 L776.26,586.81 L776.61,583.31 L776.96,579.77 L777.31,576.19 L777.67,572.57 L778.03,568.91 L778.40,565.20 L778.77,561.46 L779.15,557.67 L779.53,553.84 L779.92,549.96 L780.31,546.04 L780.70,542.07 L781.10,538.05 L781.51,533.98 L781.92,529.86 L782.34,525.68 L782.76,521.45 L783.19,517.17 L783.62,512.83 L784.06,508.43 L784.51,503.98 L784.96,499.46 L785.41,494.87 L785.88,490.23 L786.35,485.51 L786.82,480.73 L787.31,475.87 L787.80,470.95 L788.29,465.94 L788.80,460.86 L789.31,455.70 L789.83,450.46 L790.35,445.13 L790.89,439.71 L791.43,434.21 L791.97,428.60 L792.53,422.90 L793.09,417.10 L793.67,411.20 L794.25,405.19 L794.83,399.06 L795.43,392.82 L796.04,386.45 L796.65,379.96 L797.27,373.34 L797.90,366.58 L798.54,359.68 L799.19,352.63 L799.85,345.43 L800.51,338.06 L801.18,330.52 L801.86,322.81 L802.55,314.91 L803.24,306.81 L803.94,298.51 L804.65,290.00 L805.36,281.25 L806.07,272.27 L806.79,263.03 L807.51,253.53 L808.22,243.74 L808.94,233.65 L809.65,223.23 L810.34,212.48 L811.03,201.36 L811.69,189.85 L812.33,177.92 L812.94,165.54 L813.50,152.67 L814.01,139.27 L814.45,125.31 L814.80,110.72 L815.03,95.45" class="ma"/>
<path d="M782.62,865.33 L782.76,863.84 L782.90,862.34 L783.04,860.83 L783.18,859.32 L783.32,857.80 L783.46,856.27 L783.60,854.74 L783.74,853.20 L783.89,851.65 L784.03,850.09 L784.18,848.53 L784.33,846.96 L784.48,845.38 L784.63,843.80 L784.78,842.20 L784.93,840.60 L785.08,838.99 L785.24,837.37 L785.39,835.75 L785.55,834.12 L785.71,832.47 L785.87,830.82 L786.03,829.17 L786.19,827.50 L786.35,825.82 L786.52,824.14 L786.68,822.45 L786.85,820.75 L787.02,819.04 L787.19,817.32 L787.36,815.59 L787.53,813.85 L787.70,812.10 L787.88,810.35 L788.05,808.58 L788.23,806.81 L788.41,805.02 L788.59,803.23 L788.77,801.42 L788.96,799.61 L789.14,797.79 L789.33,795.95 L789.52,794.11 L789.70,792.25 L789.90,790.38 L790.09,788.51 L790.28,786.62 L790.48,784.72 L790.68,782.81 L790.88,780.89 L791.08,778.96 L791.28,777.01 L791.48,775.06 L791.69,773.09 L791.90,771.11 L792.11,769.12 L792.32,767.12 L792.53,765.10 L792.75,763.07 L792.96,761.03 L793.18,758.98 L793.40,756.91 L793.63,754.83 L793.85,752.74 L794.08,750.63 L794.31,748.52 L794.54,746.38 L794.77,744.23 L795.01,742.07 L795.25,739.90 L795.49,737.70 L795.73,735.50 L795.97,733.28 L796.22,731.04 L796.47,728.79 L796.72,726.52 L796.97,724.24 L797.23,721.94 L797.49,719.63 L797.75,717.30 L798.01,714.95 L798.28,712.58 L798.55,710.20 L798.82,707.80 L799.10,705.39 L799.37,702.95 L799.65,700.50 L799.94,698.02 L800.22,695.53 L800.51,693.02 L800.80,690.49 L801.10,687.95 L801.40,685.38 L801.70,682.79 L802.00,680.18 L802.31,677.55 L802.62,674.89 L802.94,672.22 L803.25,669.52 L803.57,666.81 L803.90,664.06 L804.23,661.30 L804.56,658.51 L804.90,655.70 L805.24,652.86 L805.58,650.00 L805.93,647.12 L806.28,644.21 L806.64,641.27 L807.00,638.30 L807.36,635.31 L807.73,632.29 L808.10,629.25 L808.48,626.17 L808.86,623.06 L809.25,619.93 L809.64,616.76 L810.04,613.57 L810.44,610.34 L810.84,607.08 L811.26,603.79 L811.67,600.46 L812.10,597.10 L812.52,593.71 L812.96,590.28 L813.40,586.81 L813.84,583.31 L814.30,579.77 L814.75,576.19 L815.22,572.57 L815.69,568.91 L816.17,565.20 L816.65,561.46 L817.14,557.67 L817.64,553.84 L818.14,549.96 L818.66,546.04 L819.18,542.07 L819.70,538.05 L820.24,533.98 L820.78,529.86 L821.34,525.68 L821.90,521.45 L822.47,517.17 L823.05,512.83 L823.64,508.43 L824.23,503.98 L824.84,499.46 L825.46,494.87 L826.09,490.23 L826.73,485.51 L827.38,480.73 L828.04,475.87 L828.71,470.95 L829.40,465.94 L830.10,460.86 L830.81,455.70 L831.53,450.46 L832.27,445.13 L833.02,439.71 L833.79,434.21 L834.57,428.60 L835.36,422.90 L836.18,417.10 L837.00,411.20 L837.85,405.19 L838.71,399.06 L839.60,392.82 L840.50,386.45 L841.42,379.96 L842.36,373.34 L843.32,366.58 L844.31,359.68 L845.31,352.63 L846.35,345.43 L847.40,338.06 L848.49,330.52 L849.60,322.81 L850.73,314.91 L851.90,306.81 L853.10,298.51 L854.33,290.00 L855.59,281.25 L856.89,272.27 L858.23,263.03 L859.60,253.53 L861.02,243.74 L862.47,233.65 L863.97,223.23 L865.52,212.48 L867.12,201.36 L868.77,189.85 L870.48,177.92 L872.24,165.54 L874.06,152.67 L875.95,139.27 L877.90,125.31 L879.92,110.72 L882.02,95.45" class="ma"/>
<path d="M584.20,90.00 L581.80,95.50 L572.20,117.70 L563.40,139.10 L553.40,159.30 L524.40,231.10 L515.60,253.70 L505.50,276.40 L498.40,289.00 L490.80,302.20 L477.30,324.30 L457.60,347.50 L432.80,370.70 L426.70,380.00 L416.00,394.20 L410.80,417.50 L413.60,440.30 L417.30,455.20 L426.50,487.40 L434.30,500.00 L440.50,510.60 L453.60,534.80 L460.60,555.90 L472.30,579.10 L475.10,590.00 L481.30,616.30 L484.30,626.30 L504.50,680.80 L515.00,720.00 L519.30,735.00 L524.80,749.50 L535.50,775.70 L546.10,800.20 L551.90,819.90 L553.00,824.00 L563.30,835.20 L576.00,846.60" class="tl"/>
<path d="M402.20,90.00 L399.00,95.50 L316.10,240.00 L294.60,277.00 L291.90,286.90 L288.90,300.80 L296.40,310.00 L306.50,322.70 L320.40,342.90 L325.40,349.80 L344.30,369.30 L358.00,393.60 L361.70,418.50 L353.40,441.20 L358.70,464.60 L400.30,487.30 L419.30,510.60 L418.60,534.10 L391.10,557.00 L378.90,580.50 L375.10,603.90 L407.60,627.30 L458.20,650.00 L460.20,673.70 L467.20,696.90 L480.60,720.00 L494.60,740.50 L502.70,757.70 L506.80,775.70 L512.60,790.40 L522.40,806.80 L536.30,820.70 L550.90,827.60 L548.40,845.80" class="dl"/>
<path d="M212.43,85.48 L214.38,91.67 L216.35,97.87 L218.36,104.06 L220.40,110.26 L222.47,116.46 L224.57,122.65 L226.70,128.85 L228.86,135.04 L231.06,141.24 L233.28,147.43 L235.54,153.63 L237.82,159.83 L240.14,166.02 L242.49,172.22 L244.87,178.41 L247.29,184.61 L249.74,190.80 L252.22,197.00 L254.73,203.20 L257.27,209.39 L259.85,215.59 L262.46,221.78 L265.11,227.98 L267.79,234.17 L270.50,240.37 L273.24,246.57 L276.02,252.76 L278.83,258.96 L281.68,265.15 L284.56,271.35 L287.48,277.54 L290.43,283.74 L293.41,289.94 L296.43,296.13 L299.48,302.33 L302.57,308.52 L305.69,314.72 L308.85,320.91 L312.04,327.11 L315.26,333.31 L318.52,339.50 L321.81,345.70 L325.14,351.89 L328.50,358.09 L331.89,364.28 L335.31,370.48 L338.77,376.68 L342.26,382.87 L345.77,389.07 L349.32,395.26 L352.90,401.46 L356.51,407.65 L360.14,413.85 L363.80,420.05 L367.48,426.24 L371.19,432.44 L374.92,438.63 L378.67,444.83 L382.44,451.02 L386.23,457.22 L390.03,463.41 L393.84,469.61 L397.66,475.81 L401.49,482.00 L405.33,488.20 L409.17,494.39 L413.00,500.59 L416.83,506.78 L420.66,512.98 L424.47,519.18 L428.28,525.37 L432.06,531.57 L435.82,537.76 L439.56,543.96 L443.27,550.15 L446.95,556.35 L450.59,562.55 L454.20,568.74 L457.77,574.94 L461.29,581.13 L464.77,587.33 L468.19,593.52 L471.57,599.72 L474.89,605.92 L478.15,612.11 L481.35,618.31 L484.50,624.50 L487.58,630.70 L490.60,636.89 L493.56,643.09 L496.46,649.29 L499.29,655.48 L502.06,661.68 L504.76,667.87 L507.39,674.07 L509.97,680.26 L512.48,686.46 L514.92,692.66 L517.31,698.85 L519.63,705.05 L521.89,711.24 L524.09,717.44 L526.24,723.63 L528.32,729.83 L530.35,736.03 L532.33,742.22 L534.25,748.42 L536.12,754.61 L537.94,760.81 L539.70,767.00 L541.42,773.20 L543.10,779.40 L544.72,785.59 L546.30,791.79 L547.84,797.98 L549.34,804.18 L550.80,810.37 L552.21,816.57 L556.32,825.44 L558.93,828.09 L561.54,830.72 L564.13,833.33 L566.71,835.91 L569.28,838.48 L571.84,841.03 L574.39,843.56 L576.93,846.06" class="pl"/>
<path d="M553.59,822.77 L549.90,845.40" class="ml"/>
</g>
<rect x="83.5" y="95.5" width="629" height="770" fill="none" stroke="#000" stroke-width="1.11"/>
<path d="M78.30,95.50 H83.50 M78.30,322.50 H83.50 M78.30,455.50 H83.50 M78.30,549.50 H83.50 M78.30,622.50 H83.50 M78.30,682.50 H83.50 M78.30,733.50 H83.50 M78.30,776.50 H83.50 M78.30,815.50 H83.50 M78.30,849.50 H83.50 M83.50,865.50 V870.50 M146.50,865.50 V870.50 M209.50,865.50 V870.50 M272.50,865.50 V870.50 M335.50,865.50 V870.50 M398.50,865.50 V870.50 M460.50,865.50 V870.50 M523.50,865.50 V870.50 M586.50,865.50 V870.50 M649.50,865.50 V870.50 M712.50,865.50 V870.50" stroke="#000" stroke-width="1.11" fill="none"/>
<path d="M712.40,136.90 L680.00,150.00 M684.70,147.70 L681.20,142.30 M712.40,183.40 L677.70,186.90 L672.30,172.80 M712.40,230.30 L677.70,234.50 L671.60,220.90 M712.40,277.80 L677.70,280.10 L672.30,266.00 M680.50,279.70 L678.60,272.60 M712.40,323.10 L677.70,324.30 L672.30,311.30 M680.50,323.90 L679.30,318.40 M712.40,371.10 L677.70,371.80 L672.30,358.20 M680.30,371.70 L679.00,364.70 M712.40,417.30 L678.20,425.10 L671.10,412.20 M712.40,464.30 L679.30,475.10 L670.70,463.30 M712.40,510.80 L677.70,515.90 L671.10,503.00 M712.40,556.90 L680.00,570.00 L670.70,559.20 M712.40,603.40 L693.40,631.50 M693.90,628.00 L689.40,625.00 M712.40,649.20 L708.70,683.20 L693.40,687.40 M707.90,680.40 L701.20,681.30 M712.40,696.10 L707.50,730.10 L692.30,732.50 M706.80,727.00 L700.00,727.80 M712.40,739.20 L701.90,771.90 L687.30,771.90 M712.40,774.80 L702.70,808.10 L688.50,808.50 M712.40,801.70 L705.20,835.40 L690.80,836.70 M712.40,827.70 L712.60,855.30 L700.50,860.00 M712.40,833.00 L716.00,869.40 L706.50,873.60 M712.40,838.00 L717.00,875.30 L704.30,883.80 M712.40,842.00 L717.70,881.00 L706.50,887.30 M712.40,836.00 L719.30,867.30 M712.40,845.00 L719.30,874.00 M712.40,830.00 L718.60,862.00" fill="none" stroke="#000" stroke-width="1.8" stroke-linejoin="miter"/>
<defs><clipPath id="hc"><rect x="91.40" y="704.40" width="154.10" height="154.00"/></clipPath></defs>
<rect x="91.40" y="704.40" width="154.10" height="154.00" fill="#fff"/>
<g clip-path="url(#hc)">
<circle cx="168.00" cy="780.80" r="25.60" fill="none" stroke="#808080" stroke-width="1.39" stroke-dasharray="5.14 2.22"/>
<circle cx="168.00" cy="780.80" r="51.20" fill="none" stroke="#808080" stroke-width="1.39" stroke-dasharray="5.14 2.22"/>
<circle cx="168.00" cy="780.80" r="76.80" fill="none" stroke="#808080" stroke-width="1.39" stroke-dasharray="5.14 2.22"/>
<circle cx="168.00" cy="780.80" r="102.40" fill="none" stroke="#808080" stroke-width="1.39" stroke-dasharray="5.14 2.22"/>
<path d="M91.40,780.80 H245.50 M168.00,704.40 V780.80" stroke="#808080" stroke-width="2.08" stroke-dasharray="7.7 3.33" fill="none"/>
<path d="M168.00,780.80 V858.40" stroke="#808080" stroke-width="2.08" stroke-dasharray="7.7 3.33" fill="none"/>
<path d="M161.80,759.50 L162.50,755.80 L165.50,754.80 L166.50,757.00 L169.00,755.50 L171.50,756.50 L173.50,757.50" stroke="#450a5c" stroke-width="3.6" fill="none" stroke-linecap="square" stroke-linejoin="round"/>
<path d="M171.30,745.50 L173.00,750.00 L174.50,753.50 L175.80,757.50 L176.20,762.00 L176.80,766.50 L180.00,769.50 L184.50,772.00 L190.00,773.80" stroke="#31688e" stroke-width="3.6" fill="none" stroke-linecap="square" stroke-linejoin="round"/>
<path d="M184.50,772.00 L190.00,773.80 L194.50,774.50" stroke="#26828e" stroke-width="3.6" fill="none" stroke-linecap="square" stroke-linejoin="round"/>
<path d="M194.50,774.50 L197.00,772.50 L199.00,774.50 L199.80,775.00" stroke="#1f9e89" stroke-width="3.6" fill="none" stroke-linecap="square" stroke-linejoin="round"/>
<path d="M189.00,778.30 L192.00,777.00 L195.00,778.80 L198.50,777.80" stroke="#d8e219" stroke-width="3.6" fill="none" stroke-linecap="square" stroke-linejoin="round"/>
<path d="M198.50,778.00 L201.50,779.50 L203.00,778.80 L204.50,780.20" stroke="#6ccd5a" stroke-width="3.6" fill="none" stroke-linecap="square" stroke-linejoin="round"/>
</g>
<rect x="91.40" y="704.40" width="154.10" height="154.00" fill="none" stroke="#000" stroke-width="1.11"/>
<text x="10.53" y="20.70" font-size="13.60" font-weight="bold" stroke="#000" stroke-width="0.45" textLength="188.20" lengthAdjust="spacingAndGlyphs" style="white-space:pre">SkewTLogP NottmEMids</text>
<text x="9.87" y="36.70" font-size="13.60" font-weight="bold" stroke="#000" stroke-width="0.45" textLength="172.34" lengthAdjust="spacingAndGlyphs" style="white-space:pre">Lat: 52.83   Lon: -1.33</text>
<text x="10.52" y="52.60" font-size="13.60" font-weight="bold" stroke="#000" stroke-width="0.45" textLength="630.89" lengthAdjust="spacingAndGlyphs" style="white-space:pre">Simulation start time: 2025-09-10_00:00:00, Valid time: 2025-09-10T12:00:00.00</text>
<text x="10.25" y="69.40" font-size="13.60" font-weight="bold" stroke="#000" stroke-width="0.45" textLength="538.52" lengthAdjust="spacingAndGlyphs" style="white-space:pre">CAPE=164 j/kg, CIN=0 j/kg, LCL=922 hPa, LFC=927 hPa, EQ=500 hPa</text>
<text x="10.42" y="86.90" font-size="13.60" font-weight="bold" stroke="#000" stroke-width="0.45" textLength="508.06" lengthAdjust="spacingAndGlyphs" style="white-space:pre">LFT IDX=0<tspan font-weight="normal" stroke-width="0" font-size="0.8em" dy="-1.5"> ° </tspan><tspan dy="1.5">C</tspan>, K IDX=24<tspan font-weight="normal" stroke-width="0" font-size="0.8em" dy="-1.5"> ° </tspan><tspan dy="1.5">C</tspan>, TOTAL TOTS=47<tspan font-weight="normal" stroke-width="0" font-size="0.8em" dy="-1.5"> ° </tspan><tspan dy="1.5">C</tspan>, SHWTR_IDX=4<tspan font-weight="normal" stroke-width="0" font-size="0.8em" dy="-1.5"> ° </tspan><tspan dy="1.5">C</tspan></text>
<text x="123.80" y="681.70" font-size="13.40" font-weight="bold" stroke="#000" stroke-width="0.45" textLength="85.05" lengthAdjust="spacingAndGlyphs" style="white-space:pre">Wind Profile</text>
<text x="111.65" y="696.90" font-size="13.00" font-weight="bold" stroke="#000" stroke-width="0.45" textLength="117.89" lengthAdjust="spacingAndGlyphs" style="white-space:pre">10m/s increment</text>
<text x="335.44" y="907.80" font-size="13.60" stroke="#000" stroke-width="0.15" textLength="124.41" lengthAdjust="spacingAndGlyphs" style="white-space:pre">Temperature (<tspan font-size="0.8em" dy="-1.5"> ° </tspan><tspan dy="1.5">C</tspan>)</text>
<text x="47.06" y="101.05" font-size="13.70" stroke="#000" stroke-width="0.15" textLength="25.99" lengthAdjust="spacingAndGlyphs" style="white-space:pre">100</text>
<text x="47.33" y="328.00" font-size="13.70" stroke="#000" stroke-width="0.15" textLength="25.71" lengthAdjust="spacingAndGlyphs" style="white-space:pre">200</text>
<text x="47.59" y="460.75" font-size="13.70" stroke="#000" stroke-width="0.15" textLength="25.44" lengthAdjust="spacingAndGlyphs" style="white-space:pre">300</text>
<text x="47.85" y="554.95" font-size="13.70" stroke="#000" stroke-width="0.15" textLength="25.18" lengthAdjust="spacingAndGlyphs" style="white-space:pre">400</text>
<text x="47.59" y="628.01" font-size="13.70" stroke="#000" stroke-width="0.15" textLength="25.44" lengthAdjust="spacingAndGlyphs" style="white-space:pre">500</text>
<text x="47.33" y="687.70" font-size="13.70" stroke="#000" stroke-width="0.15" textLength="25.71" lengthAdjust="spacingAndGlyphs" style="white-space:pre">600</text>
<text x="47.33" y="738.17" font-size="13.70" stroke="#000" stroke-width="0.15" textLength="25.71" lengthAdjust="spacingAndGlyphs" style="white-space:pre">700</text>
<text x="47.59" y="781.89" font-size="13.70" stroke="#000" stroke-width="0.15" textLength="25.44" lengthAdjust="spacingAndGlyphs" style="white-space:pre">800</text>
<text x="47.59" y="820.46" font-size="13.70" stroke="#000" stroke-width="0.15" textLength="25.44" lengthAdjust="spacingAndGlyphs" style="white-space:pre">900</text>
<text x="39.39" y="854.96" font-size="13.70" stroke="#000" stroke-width="0.15" textLength="33.74" lengthAdjust="spacingAndGlyphs" style="white-space:pre">1000</text>
<text x="69.46" y="887.20" font-size="13.70" stroke="#000" stroke-width="0.15" textLength="27.42" lengthAdjust="spacingAndGlyphs" style="white-space:pre">−60</text>
<text x="132.34" y="887.20" font-size="13.70" stroke="#000" stroke-width="0.15" textLength="27.42" lengthAdjust="spacingAndGlyphs" style="white-space:pre">−50</text>
<text x="195.22" y="887.20" font-size="13.70" stroke="#000" stroke-width="0.15" textLength="27.42" lengthAdjust="spacingAndGlyphs" style="white-space:pre">−40</text>
<text x="258.10" y="887.20" font-size="13.70" stroke="#000" stroke-width="0.15" textLength="27.42" lengthAdjust="spacingAndGlyphs" style="white-space:pre">−30</text>
<text x="320.98" y="887.20" font-size="13.70" stroke="#000" stroke-width="0.15" textLength="27.42" lengthAdjust="spacingAndGlyphs" style="white-space:pre">−20</text>
<text x="383.86" y="887.20" font-size="13.70" stroke="#000" stroke-width="0.15" textLength="27.42" lengthAdjust="spacingAndGlyphs" style="white-space:pre">−10</text>
<text x="456.44" y="887.20" font-size="13.70" stroke="#000" stroke-width="0.15" textLength="8.17" lengthAdjust="spacingAndGlyphs" style="white-space:pre">0</text>
<text x="514.54" y="887.20" font-size="13.70" stroke="#000" stroke-width="0.15" textLength="17.07" lengthAdjust="spacingAndGlyphs" style="white-space:pre">10</text>
<text x="577.69" y="887.20" font-size="13.70" stroke="#000" stroke-width="0.15" textLength="16.80" lengthAdjust="spacingAndGlyphs" style="white-space:pre">20</text>
<text x="640.82" y="887.20" font-size="13.70" stroke="#000" stroke-width="0.15" textLength="16.53" lengthAdjust="spacingAndGlyphs" style="white-space:pre">30</text>
<text x="703.96" y="887.20" font-size="13.70" stroke="#000" stroke-width="0.15" textLength="16.27" lengthAdjust="spacingAndGlyphs" style="white-space:pre">40</text>
<text transform="translate(28.40,532.90) rotate(-90)" x="0" y="0" font-size="13.60" textLength="100.46" lengthAdjust="spacingAndGlyphs">Pressure (hPa)</text>
</svg>
</body></html>
